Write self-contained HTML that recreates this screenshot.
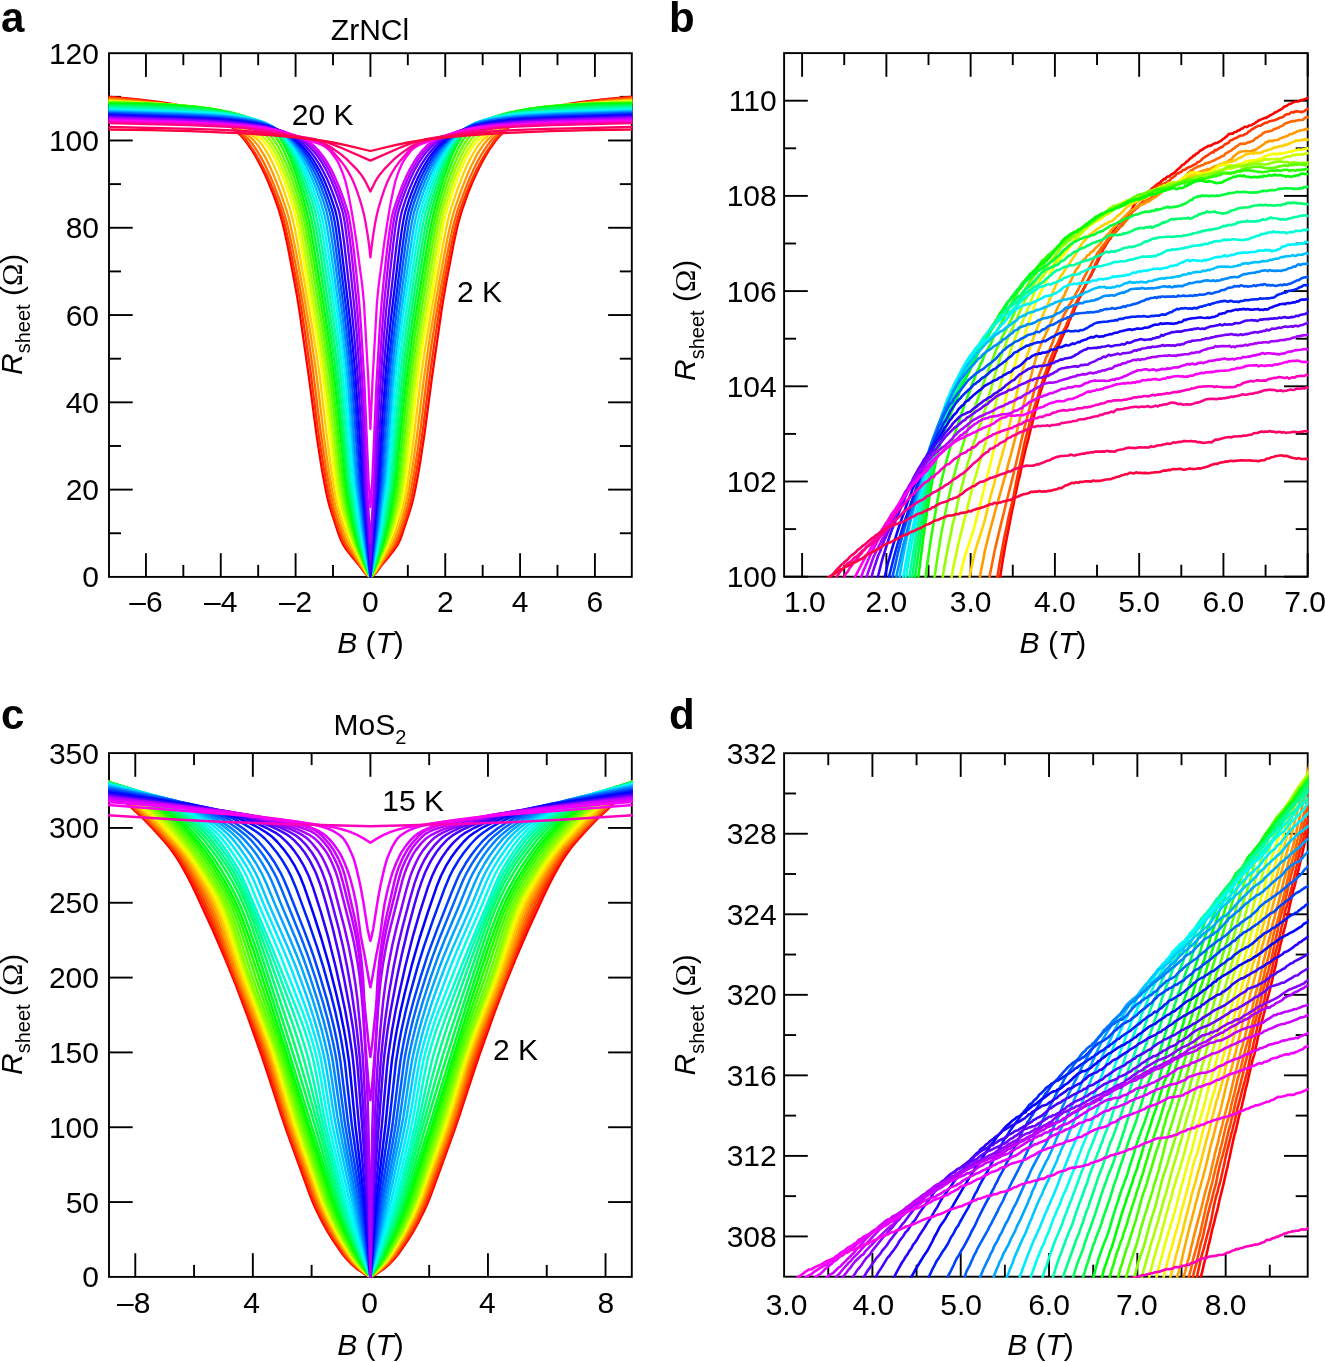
<!DOCTYPE html>
<html><head><meta charset="utf-8"><title>Figure</title>
<style>html,body{margin:0;padding:0;background:#fff;} svg{display:block;will-change:transform;} text{font-family:"Liberation Sans", sans-serif;}</style>
</head><body>
<svg width="1325" height="1362" viewBox="0 0 1325 1362" font-family='"Liberation Sans", sans-serif' fill="#000"><line x1="145.93" y1="576.90" x2="145.93" y2="553.20" stroke="#000" stroke-width="1.9"/>
<line x1="145.93" y1="53.20" x2="145.93" y2="76.90" stroke="#000" stroke-width="1.9"/>
<line x1="220.76" y1="576.90" x2="220.76" y2="553.20" stroke="#000" stroke-width="1.9"/>
<line x1="220.76" y1="53.20" x2="220.76" y2="76.90" stroke="#000" stroke-width="1.9"/>
<line x1="295.59" y1="576.90" x2="295.59" y2="553.20" stroke="#000" stroke-width="1.9"/>
<line x1="295.59" y1="53.20" x2="295.59" y2="76.90" stroke="#000" stroke-width="1.9"/>
<line x1="370.42" y1="576.90" x2="370.42" y2="553.20" stroke="#000" stroke-width="1.9"/>
<line x1="370.42" y1="53.20" x2="370.42" y2="76.90" stroke="#000" stroke-width="1.9"/>
<line x1="445.25" y1="576.90" x2="445.25" y2="553.20" stroke="#000" stroke-width="1.9"/>
<line x1="445.25" y1="53.20" x2="445.25" y2="76.90" stroke="#000" stroke-width="1.9"/>
<line x1="520.08" y1="576.90" x2="520.08" y2="553.20" stroke="#000" stroke-width="1.9"/>
<line x1="520.08" y1="53.20" x2="520.08" y2="76.90" stroke="#000" stroke-width="1.9"/>
<line x1="594.91" y1="576.90" x2="594.91" y2="553.20" stroke="#000" stroke-width="1.9"/>
<line x1="594.91" y1="53.20" x2="594.91" y2="76.90" stroke="#000" stroke-width="1.9"/>
<line x1="183.34" y1="576.90" x2="183.34" y2="564.90" stroke="#000" stroke-width="1.9"/>
<line x1="183.34" y1="53.20" x2="183.34" y2="65.20" stroke="#000" stroke-width="1.9"/>
<line x1="258.17" y1="576.90" x2="258.17" y2="564.90" stroke="#000" stroke-width="1.9"/>
<line x1="258.17" y1="53.20" x2="258.17" y2="65.20" stroke="#000" stroke-width="1.9"/>
<line x1="333.00" y1="576.90" x2="333.00" y2="564.90" stroke="#000" stroke-width="1.9"/>
<line x1="333.00" y1="53.20" x2="333.00" y2="65.20" stroke="#000" stroke-width="1.9"/>
<line x1="407.83" y1="576.90" x2="407.83" y2="564.90" stroke="#000" stroke-width="1.9"/>
<line x1="407.83" y1="53.20" x2="407.83" y2="65.20" stroke="#000" stroke-width="1.9"/>
<line x1="482.66" y1="576.90" x2="482.66" y2="564.90" stroke="#000" stroke-width="1.9"/>
<line x1="482.66" y1="53.20" x2="482.66" y2="65.20" stroke="#000" stroke-width="1.9"/>
<line x1="557.49" y1="576.90" x2="557.49" y2="564.90" stroke="#000" stroke-width="1.9"/>
<line x1="557.49" y1="53.20" x2="557.49" y2="65.20" stroke="#000" stroke-width="1.9"/>
<line x1="109.00" y1="489.62" x2="132.70" y2="489.62" stroke="#000" stroke-width="1.9"/>
<line x1="631.80" y1="489.62" x2="608.10" y2="489.62" stroke="#000" stroke-width="1.9"/>
<line x1="109.00" y1="402.33" x2="132.70" y2="402.33" stroke="#000" stroke-width="1.9"/>
<line x1="631.80" y1="402.33" x2="608.10" y2="402.33" stroke="#000" stroke-width="1.9"/>
<line x1="109.00" y1="315.05" x2="132.70" y2="315.05" stroke="#000" stroke-width="1.9"/>
<line x1="631.80" y1="315.05" x2="608.10" y2="315.05" stroke="#000" stroke-width="1.9"/>
<line x1="109.00" y1="227.77" x2="132.70" y2="227.77" stroke="#000" stroke-width="1.9"/>
<line x1="631.80" y1="227.77" x2="608.10" y2="227.77" stroke="#000" stroke-width="1.9"/>
<line x1="109.00" y1="140.48" x2="132.70" y2="140.48" stroke="#000" stroke-width="1.9"/>
<line x1="631.80" y1="140.48" x2="608.10" y2="140.48" stroke="#000" stroke-width="1.9"/>
<line x1="109.00" y1="533.26" x2="121.00" y2="533.26" stroke="#000" stroke-width="1.9"/>
<line x1="631.80" y1="533.26" x2="619.80" y2="533.26" stroke="#000" stroke-width="1.9"/>
<line x1="109.00" y1="445.98" x2="121.00" y2="445.98" stroke="#000" stroke-width="1.9"/>
<line x1="631.80" y1="445.98" x2="619.80" y2="445.98" stroke="#000" stroke-width="1.9"/>
<line x1="109.00" y1="358.69" x2="121.00" y2="358.69" stroke="#000" stroke-width="1.9"/>
<line x1="631.80" y1="358.69" x2="619.80" y2="358.69" stroke="#000" stroke-width="1.9"/>
<line x1="109.00" y1="271.41" x2="121.00" y2="271.41" stroke="#000" stroke-width="1.9"/>
<line x1="631.80" y1="271.41" x2="619.80" y2="271.41" stroke="#000" stroke-width="1.9"/>
<line x1="109.00" y1="184.12" x2="121.00" y2="184.12" stroke="#000" stroke-width="1.9"/>
<line x1="631.80" y1="184.12" x2="619.80" y2="184.12" stroke="#000" stroke-width="1.9"/>
<line x1="109.00" y1="96.84" x2="121.00" y2="96.84" stroke="#000" stroke-width="1.9"/>
<line x1="631.80" y1="96.84" x2="619.80" y2="96.84" stroke="#000" stroke-width="1.9"/>
<rect x="109.00" y="53.20" width="522.80" height="523.70" fill="none" stroke="#000" stroke-width="1.9"/>
<text x="145.93" y="612.00" font-size="30" text-anchor="middle" >–6</text>
<text x="220.76" y="612.00" font-size="30" text-anchor="middle" >–4</text>
<text x="295.59" y="612.00" font-size="30" text-anchor="middle" >–2</text>
<text x="370.42" y="612.00" font-size="30" text-anchor="middle" >0</text>
<text x="445.25" y="612.00" font-size="30" text-anchor="middle" >2</text>
<text x="520.08" y="612.00" font-size="30" text-anchor="middle" >4</text>
<text x="594.91" y="612.00" font-size="30" text-anchor="middle" >6</text>
<text x="99.00" y="587.40" font-size="30" text-anchor="end" >0</text>
<text x="99.00" y="500.12" font-size="30" text-anchor="end" >20</text>
<text x="99.00" y="412.83" font-size="30" text-anchor="end" >40</text>
<text x="99.00" y="325.55" font-size="30" text-anchor="end" >60</text>
<text x="99.00" y="238.27" font-size="30" text-anchor="end" >80</text>
<text x="99.00" y="150.98" font-size="30" text-anchor="end" >100</text>
<text x="99.00" y="63.70" font-size="30" text-anchor="end" >120</text>
<line x1="802.10" y1="576.70" x2="802.10" y2="553.00" stroke="#000" stroke-width="1.9"/>
<line x1="802.10" y1="53.10" x2="802.10" y2="76.80" stroke="#000" stroke-width="1.9"/>
<line x1="886.37" y1="576.70" x2="886.37" y2="553.00" stroke="#000" stroke-width="1.9"/>
<line x1="886.37" y1="53.10" x2="886.37" y2="76.80" stroke="#000" stroke-width="1.9"/>
<line x1="970.63" y1="576.70" x2="970.63" y2="553.00" stroke="#000" stroke-width="1.9"/>
<line x1="970.63" y1="53.10" x2="970.63" y2="76.80" stroke="#000" stroke-width="1.9"/>
<line x1="1054.90" y1="576.70" x2="1054.90" y2="553.00" stroke="#000" stroke-width="1.9"/>
<line x1="1054.90" y1="53.10" x2="1054.90" y2="76.80" stroke="#000" stroke-width="1.9"/>
<line x1="1139.17" y1="576.70" x2="1139.17" y2="553.00" stroke="#000" stroke-width="1.9"/>
<line x1="1139.17" y1="53.10" x2="1139.17" y2="76.80" stroke="#000" stroke-width="1.9"/>
<line x1="1223.43" y1="576.70" x2="1223.43" y2="553.00" stroke="#000" stroke-width="1.9"/>
<line x1="1223.43" y1="53.10" x2="1223.43" y2="76.80" stroke="#000" stroke-width="1.9"/>
<line x1="1307.70" y1="576.70" x2="1307.70" y2="553.00" stroke="#000" stroke-width="1.9"/>
<line x1="1307.70" y1="53.10" x2="1307.70" y2="76.80" stroke="#000" stroke-width="1.9"/>
<line x1="844.23" y1="576.70" x2="844.23" y2="564.70" stroke="#000" stroke-width="1.9"/>
<line x1="844.23" y1="53.10" x2="844.23" y2="65.10" stroke="#000" stroke-width="1.9"/>
<line x1="928.50" y1="576.70" x2="928.50" y2="564.70" stroke="#000" stroke-width="1.9"/>
<line x1="928.50" y1="53.10" x2="928.50" y2="65.10" stroke="#000" stroke-width="1.9"/>
<line x1="1012.77" y1="576.70" x2="1012.77" y2="564.70" stroke="#000" stroke-width="1.9"/>
<line x1="1012.77" y1="53.10" x2="1012.77" y2="65.10" stroke="#000" stroke-width="1.9"/>
<line x1="1097.03" y1="576.70" x2="1097.03" y2="564.70" stroke="#000" stroke-width="1.9"/>
<line x1="1097.03" y1="53.10" x2="1097.03" y2="65.10" stroke="#000" stroke-width="1.9"/>
<line x1="1181.30" y1="576.70" x2="1181.30" y2="564.70" stroke="#000" stroke-width="1.9"/>
<line x1="1181.30" y1="53.10" x2="1181.30" y2="65.10" stroke="#000" stroke-width="1.9"/>
<line x1="1265.57" y1="576.70" x2="1265.57" y2="564.70" stroke="#000" stroke-width="1.9"/>
<line x1="1265.57" y1="53.10" x2="1265.57" y2="65.10" stroke="#000" stroke-width="1.9"/>
<line x1="784.10" y1="576.70" x2="807.80" y2="576.70" stroke="#000" stroke-width="1.9"/>
<line x1="1307.70" y1="576.70" x2="1284.00" y2="576.70" stroke="#000" stroke-width="1.9"/>
<line x1="784.10" y1="481.50" x2="807.80" y2="481.50" stroke="#000" stroke-width="1.9"/>
<line x1="1307.70" y1="481.50" x2="1284.00" y2="481.50" stroke="#000" stroke-width="1.9"/>
<line x1="784.10" y1="386.30" x2="807.80" y2="386.30" stroke="#000" stroke-width="1.9"/>
<line x1="1307.70" y1="386.30" x2="1284.00" y2="386.30" stroke="#000" stroke-width="1.9"/>
<line x1="784.10" y1="291.10" x2="807.80" y2="291.10" stroke="#000" stroke-width="1.9"/>
<line x1="1307.70" y1="291.10" x2="1284.00" y2="291.10" stroke="#000" stroke-width="1.9"/>
<line x1="784.10" y1="195.90" x2="807.80" y2="195.90" stroke="#000" stroke-width="1.9"/>
<line x1="1307.70" y1="195.90" x2="1284.00" y2="195.90" stroke="#000" stroke-width="1.9"/>
<line x1="784.10" y1="100.70" x2="807.80" y2="100.70" stroke="#000" stroke-width="1.9"/>
<line x1="1307.70" y1="100.70" x2="1284.00" y2="100.70" stroke="#000" stroke-width="1.9"/>
<line x1="784.10" y1="529.10" x2="796.10" y2="529.10" stroke="#000" stroke-width="1.9"/>
<line x1="1307.70" y1="529.10" x2="1295.70" y2="529.10" stroke="#000" stroke-width="1.9"/>
<line x1="784.10" y1="433.90" x2="796.10" y2="433.90" stroke="#000" stroke-width="1.9"/>
<line x1="1307.70" y1="433.90" x2="1295.70" y2="433.90" stroke="#000" stroke-width="1.9"/>
<line x1="784.10" y1="338.70" x2="796.10" y2="338.70" stroke="#000" stroke-width="1.9"/>
<line x1="1307.70" y1="338.70" x2="1295.70" y2="338.70" stroke="#000" stroke-width="1.9"/>
<line x1="784.10" y1="243.50" x2="796.10" y2="243.50" stroke="#000" stroke-width="1.9"/>
<line x1="1307.70" y1="243.50" x2="1295.70" y2="243.50" stroke="#000" stroke-width="1.9"/>
<line x1="784.10" y1="148.30" x2="796.10" y2="148.30" stroke="#000" stroke-width="1.9"/>
<line x1="1307.70" y1="148.30" x2="1295.70" y2="148.30" stroke="#000" stroke-width="1.9"/>
<rect x="784.10" y="53.10" width="523.60" height="523.60" fill="none" stroke="#000" stroke-width="1.9"/>
<text x="804.90" y="612.00" font-size="30" text-anchor="middle" >1.0</text>
<text x="886.37" y="612.00" font-size="30" text-anchor="middle" >2.0</text>
<text x="970.63" y="612.00" font-size="30" text-anchor="middle" >3.0</text>
<text x="1054.90" y="612.00" font-size="30" text-anchor="middle" >4.0</text>
<text x="1139.17" y="612.00" font-size="30" text-anchor="middle" >5.0</text>
<text x="1223.43" y="612.00" font-size="30" text-anchor="middle" >6.0</text>
<text x="1305.10" y="612.00" font-size="30" text-anchor="middle" >7.0</text>
<text x="776.70" y="587.20" font-size="30" text-anchor="end" >100</text>
<text x="776.70" y="492.00" font-size="30" text-anchor="end" >102</text>
<text x="776.70" y="396.80" font-size="30" text-anchor="end" >104</text>
<text x="776.70" y="301.60" font-size="30" text-anchor="end" >106</text>
<text x="776.70" y="206.40" font-size="30" text-anchor="end" >108</text>
<text x="776.70" y="111.20" font-size="30" text-anchor="end" >110</text>
<line x1="135.28" y1="1276.90" x2="135.28" y2="1253.20" stroke="#000" stroke-width="1.9"/>
<line x1="135.28" y1="753.10" x2="135.28" y2="776.80" stroke="#000" stroke-width="1.9"/>
<line x1="252.84" y1="1276.90" x2="252.84" y2="1253.20" stroke="#000" stroke-width="1.9"/>
<line x1="252.84" y1="753.10" x2="252.84" y2="776.80" stroke="#000" stroke-width="1.9"/>
<line x1="370.40" y1="1276.90" x2="370.40" y2="1253.20" stroke="#000" stroke-width="1.9"/>
<line x1="370.40" y1="753.10" x2="370.40" y2="776.80" stroke="#000" stroke-width="1.9"/>
<line x1="487.96" y1="1276.90" x2="487.96" y2="1253.20" stroke="#000" stroke-width="1.9"/>
<line x1="487.96" y1="753.10" x2="487.96" y2="776.80" stroke="#000" stroke-width="1.9"/>
<line x1="605.52" y1="1276.90" x2="605.52" y2="1253.20" stroke="#000" stroke-width="1.9"/>
<line x1="605.52" y1="753.10" x2="605.52" y2="776.80" stroke="#000" stroke-width="1.9"/>
<line x1="194.06" y1="1276.90" x2="194.06" y2="1264.90" stroke="#000" stroke-width="1.9"/>
<line x1="194.06" y1="753.10" x2="194.06" y2="765.10" stroke="#000" stroke-width="1.9"/>
<line x1="311.62" y1="1276.90" x2="311.62" y2="1264.90" stroke="#000" stroke-width="1.9"/>
<line x1="311.62" y1="753.10" x2="311.62" y2="765.10" stroke="#000" stroke-width="1.9"/>
<line x1="429.18" y1="1276.90" x2="429.18" y2="1264.90" stroke="#000" stroke-width="1.9"/>
<line x1="429.18" y1="753.10" x2="429.18" y2="765.10" stroke="#000" stroke-width="1.9"/>
<line x1="546.74" y1="1276.90" x2="546.74" y2="1264.90" stroke="#000" stroke-width="1.9"/>
<line x1="546.74" y1="753.10" x2="546.74" y2="765.10" stroke="#000" stroke-width="1.9"/>
<line x1="109.00" y1="1202.07" x2="132.70" y2="1202.07" stroke="#000" stroke-width="1.9"/>
<line x1="631.80" y1="1202.07" x2="608.10" y2="1202.07" stroke="#000" stroke-width="1.9"/>
<line x1="109.00" y1="1127.24" x2="132.70" y2="1127.24" stroke="#000" stroke-width="1.9"/>
<line x1="631.80" y1="1127.24" x2="608.10" y2="1127.24" stroke="#000" stroke-width="1.9"/>
<line x1="109.00" y1="1052.41" x2="132.70" y2="1052.41" stroke="#000" stroke-width="1.9"/>
<line x1="631.80" y1="1052.41" x2="608.10" y2="1052.41" stroke="#000" stroke-width="1.9"/>
<line x1="109.00" y1="977.59" x2="132.70" y2="977.59" stroke="#000" stroke-width="1.9"/>
<line x1="631.80" y1="977.59" x2="608.10" y2="977.59" stroke="#000" stroke-width="1.9"/>
<line x1="109.00" y1="902.76" x2="132.70" y2="902.76" stroke="#000" stroke-width="1.9"/>
<line x1="631.80" y1="902.76" x2="608.10" y2="902.76" stroke="#000" stroke-width="1.9"/>
<line x1="109.00" y1="827.93" x2="132.70" y2="827.93" stroke="#000" stroke-width="1.9"/>
<line x1="631.80" y1="827.93" x2="608.10" y2="827.93" stroke="#000" stroke-width="1.9"/>
<rect x="109.00" y="753.10" width="522.80" height="523.80" fill="none" stroke="#000" stroke-width="1.9"/>
<text x="133.68" y="1313.00" font-size="30" text-anchor="middle" >–8</text>
<text x="251.64" y="1313.00" font-size="30" text-anchor="middle" >4</text>
<text x="369.50" y="1313.00" font-size="30" text-anchor="middle" >0</text>
<text x="487.46" y="1313.00" font-size="30" text-anchor="middle" >4</text>
<text x="605.82" y="1313.00" font-size="30" text-anchor="middle" >8</text>
<text x="99.00" y="1287.40" font-size="30" text-anchor="end" >0</text>
<text x="99.00" y="1212.57" font-size="30" text-anchor="end" >50</text>
<text x="99.00" y="1137.74" font-size="30" text-anchor="end" >100</text>
<text x="99.00" y="1062.91" font-size="30" text-anchor="end" >150</text>
<text x="99.00" y="988.09" font-size="30" text-anchor="end" >200</text>
<text x="99.00" y="913.26" font-size="30" text-anchor="end" >250</text>
<text x="99.00" y="838.43" font-size="30" text-anchor="end" >300</text>
<text x="99.00" y="763.60" font-size="30" text-anchor="end" >350</text>
<line x1="872.41" y1="1276.70" x2="872.41" y2="1253.00" stroke="#000" stroke-width="1.9"/>
<line x1="872.41" y1="753.20" x2="872.41" y2="776.90" stroke="#000" stroke-width="1.9"/>
<line x1="960.72" y1="1276.70" x2="960.72" y2="1253.00" stroke="#000" stroke-width="1.9"/>
<line x1="960.72" y1="753.20" x2="960.72" y2="776.90" stroke="#000" stroke-width="1.9"/>
<line x1="1049.04" y1="1276.70" x2="1049.04" y2="1253.00" stroke="#000" stroke-width="1.9"/>
<line x1="1049.04" y1="753.20" x2="1049.04" y2="776.90" stroke="#000" stroke-width="1.9"/>
<line x1="1137.35" y1="1276.70" x2="1137.35" y2="1253.00" stroke="#000" stroke-width="1.9"/>
<line x1="1137.35" y1="753.20" x2="1137.35" y2="776.90" stroke="#000" stroke-width="1.9"/>
<line x1="1225.66" y1="1276.70" x2="1225.66" y2="1253.00" stroke="#000" stroke-width="1.9"/>
<line x1="1225.66" y1="753.20" x2="1225.66" y2="776.90" stroke="#000" stroke-width="1.9"/>
<line x1="828.26" y1="1276.70" x2="828.26" y2="1264.70" stroke="#000" stroke-width="1.9"/>
<line x1="828.26" y1="753.20" x2="828.26" y2="765.20" stroke="#000" stroke-width="1.9"/>
<line x1="916.57" y1="1276.70" x2="916.57" y2="1264.70" stroke="#000" stroke-width="1.9"/>
<line x1="916.57" y1="753.20" x2="916.57" y2="765.20" stroke="#000" stroke-width="1.9"/>
<line x1="1004.88" y1="1276.70" x2="1004.88" y2="1264.70" stroke="#000" stroke-width="1.9"/>
<line x1="1004.88" y1="753.20" x2="1004.88" y2="765.20" stroke="#000" stroke-width="1.9"/>
<line x1="1093.19" y1="1276.70" x2="1093.19" y2="1264.70" stroke="#000" stroke-width="1.9"/>
<line x1="1093.19" y1="753.20" x2="1093.19" y2="765.20" stroke="#000" stroke-width="1.9"/>
<line x1="1181.50" y1="1276.70" x2="1181.50" y2="1264.70" stroke="#000" stroke-width="1.9"/>
<line x1="1181.50" y1="753.20" x2="1181.50" y2="765.20" stroke="#000" stroke-width="1.9"/>
<line x1="1269.81" y1="1276.70" x2="1269.81" y2="1264.70" stroke="#000" stroke-width="1.9"/>
<line x1="1269.81" y1="753.20" x2="1269.81" y2="765.20" stroke="#000" stroke-width="1.9"/>
<line x1="784.10" y1="1236.43" x2="807.80" y2="1236.43" stroke="#000" stroke-width="1.9"/>
<line x1="1307.70" y1="1236.43" x2="1284.00" y2="1236.43" stroke="#000" stroke-width="1.9"/>
<line x1="784.10" y1="1155.89" x2="807.80" y2="1155.89" stroke="#000" stroke-width="1.9"/>
<line x1="1307.70" y1="1155.89" x2="1284.00" y2="1155.89" stroke="#000" stroke-width="1.9"/>
<line x1="784.10" y1="1075.35" x2="807.80" y2="1075.35" stroke="#000" stroke-width="1.9"/>
<line x1="1307.70" y1="1075.35" x2="1284.00" y2="1075.35" stroke="#000" stroke-width="1.9"/>
<line x1="784.10" y1="994.82" x2="807.80" y2="994.82" stroke="#000" stroke-width="1.9"/>
<line x1="1307.70" y1="994.82" x2="1284.00" y2="994.82" stroke="#000" stroke-width="1.9"/>
<line x1="784.10" y1="914.28" x2="807.80" y2="914.28" stroke="#000" stroke-width="1.9"/>
<line x1="1307.70" y1="914.28" x2="1284.00" y2="914.28" stroke="#000" stroke-width="1.9"/>
<line x1="784.10" y1="833.74" x2="807.80" y2="833.74" stroke="#000" stroke-width="1.9"/>
<line x1="1307.70" y1="833.74" x2="1284.00" y2="833.74" stroke="#000" stroke-width="1.9"/>
<line x1="784.10" y1="1196.16" x2="796.10" y2="1196.16" stroke="#000" stroke-width="1.9"/>
<line x1="1307.70" y1="1196.16" x2="1295.70" y2="1196.16" stroke="#000" stroke-width="1.9"/>
<line x1="784.10" y1="1115.62" x2="796.10" y2="1115.62" stroke="#000" stroke-width="1.9"/>
<line x1="1307.70" y1="1115.62" x2="1295.70" y2="1115.62" stroke="#000" stroke-width="1.9"/>
<line x1="784.10" y1="1035.08" x2="796.10" y2="1035.08" stroke="#000" stroke-width="1.9"/>
<line x1="1307.70" y1="1035.08" x2="1295.70" y2="1035.08" stroke="#000" stroke-width="1.9"/>
<line x1="784.10" y1="954.55" x2="796.10" y2="954.55" stroke="#000" stroke-width="1.9"/>
<line x1="1307.70" y1="954.55" x2="1295.70" y2="954.55" stroke="#000" stroke-width="1.9"/>
<line x1="784.10" y1="874.01" x2="796.10" y2="874.01" stroke="#000" stroke-width="1.9"/>
<line x1="1307.70" y1="874.01" x2="1295.70" y2="874.01" stroke="#000" stroke-width="1.9"/>
<line x1="784.10" y1="793.47" x2="796.10" y2="793.47" stroke="#000" stroke-width="1.9"/>
<line x1="1307.70" y1="793.47" x2="1295.70" y2="793.47" stroke="#000" stroke-width="1.9"/>
<rect x="784.10" y="753.20" width="523.60" height="523.50" fill="none" stroke="#000" stroke-width="1.9"/>
<text x="786.50" y="1314.60" font-size="30" text-anchor="middle" >3.0</text>
<text x="873.31" y="1314.60" font-size="30" text-anchor="middle" >4.0</text>
<text x="961.12" y="1314.60" font-size="30" text-anchor="middle" >5.0</text>
<text x="1049.04" y="1314.60" font-size="30" text-anchor="middle" >6.0</text>
<text x="1136.85" y="1314.60" font-size="30" text-anchor="middle" >7.0</text>
<text x="1225.66" y="1314.60" font-size="30" text-anchor="middle" >8.0</text>
<text x="776.70" y="1246.93" font-size="30" text-anchor="end" >308</text>
<text x="776.70" y="1166.39" font-size="30" text-anchor="end" >312</text>
<text x="776.70" y="1085.85" font-size="30" text-anchor="end" >316</text>
<text x="776.70" y="1005.32" font-size="30" text-anchor="end" >320</text>
<text x="776.70" y="924.78" font-size="30" text-anchor="end" >324</text>
<text x="776.70" y="844.24" font-size="30" text-anchor="end" >328</text>
<text x="776.70" y="763.70" font-size="30" text-anchor="end" >332</text>
<defs><clipPath id="ca"><rect x="108.05" y="52.25" width="524.70" height="525.60"/></clipPath><clipPath id="cb"><rect x="783.15" y="52.15" width="525.50" height="525.50"/></clipPath><clipPath id="cc"><rect x="108.05" y="752.15" width="524.70" height="525.70"/></clipPath><clipPath id="cd"><rect x="783.15" y="752.25" width="525.50" height="525.40"/></clipPath></defs>
<g clip-path="url(#ca)"><g transform="scale(0.1)" fill="none" stroke-width="23" stroke-linejoin="round">
<path d="M1085 967l137 11 159 16 205 26 136 20 114 21 86 21 51 16 68 27 125 55 57 28 64 39 48 38 82 80 34 40 67 97 34 55 33 60 34 65 34 71 33 76 34 83 34 90 34 97 34 118 17 70 35 158 68 361 30 165 24 149 93 652 75 567 43 281 20 120 27 142 18 85 19 80 26 85 69 209 23 60 22 45 36 54 46 59 74 89 66 87 25 21 13 8 13 5 13-5 13-8 25-21 66-87 74-89 46-59 37-54 22-45 22-60 69-209 26-85 20-80 18-85 27-142 20-120 43-281 75-567 93-652 24-149 29-165 69-361 34-158 17-70 35-118 34-97 33-90 34-83 34-76 33-71 34-65 34-60 33-55 68-97 34-40 82-80 47-38 64-39 57-28 125-55 69-27 51-16 85-21 114-21 137-20 204-26 160-16 136-11" stroke="hsl(0.0,100%,50%)"/>
<path d="M1085 974l138 10 161 16 206 26 138 20 115 20 86 20 52 15 69 27 137 59 46 22 65 40 55 43 75 73 35 40 68 97 35 55 34 60 34 65 35 71 34 76 34 83 34 90 35 97 35 118 17 71 35 157 70 362 30 164 25 148 37 242 49 344 72 568 32 219 33 207 33 182 21 105 20 84 31 103 49 146 31 81 23 46 41 63 100 134 62 87 12 13 16 13 24 13 24-13 16-13 12-13 62-87 101-134 41-63 22-46 31-81 50-146 30-103 20-84 21-105 33-182 34-207 31-219 73-568 49-344 37-242 24-148 30-164 70-362 35-157 18-71 35-118 34-97 34-90 34-83 35-76 34-71 34-65 35-60 34-55 68-97 35-40 76-73 55-43 64-40 46-22 138-59 69-27 51-15 86-20 115-20 138-20 207-26 160-16 138-10" stroke="hsl(12.2,100%,50%)"/>
<path d="M1085 983l212 19 188 19 188 22 135 20 106 19 71 17 70 23 88 34 83 36 54 31 89 67 99 86 28 29 34 43 33 48 33 54 34 61 33 66 34 72 33 78 67 175 34 97 35 119 17 71 35 159 86 454 51 294 38 246 37 263 70 567 31 220 32 208 28 159 25 127 19 84 29 103 41 124 31 84 30 64 33 54 96 139 61 92 11 13 15 13 22 13 22-13 15-13 11-13 61-92 96-139 33-54 30-64 31-84 41-124 29-103 20-84 24-127 28-159 33-208 30-220 70-567 38-263 38-246 50-294 87-454 34-159 18-71 34-119 34-97 67-175 33-78 34-72 33-66 34-61 33-54 34-48 33-43 29-29 98-86 90-67 54-31 82-36 88-34 71-23 70-17 106-19 135-20 188-22 189-19 211-19" stroke="hsl(24.3,100%,50%)"/>
<path d="M1085 993l436 36 146 15 121 15 115 17 72 13 73 18 73 23 66 25 61 27 48 27 39 28 131 107 44 34 21 19 40 47 33 47 32 53 33 60 32 67 33 73 65 165 65 190 17 56 16 64 33 149 34 169 79 436 65 384 60 411 68 570 33 240 24 162 25 142 20 104 19 84 29 103 32 102 39 105 30 65 30 53 143 232 21 23 13 10 10 6 10-6 14-10 20-23 144-232 30-53 29-65 39-105 33-102 28-103 20-84 20-104 24-142 24-162 33-240 69-570 60-411 64-384 80-436 33-169 33-149 17-64 16-56 66-190 65-165 32-73 33-67 32-60 33-53 32-47 40-47 22-19 43-34 131-107 39-28 48-27 61-27 67-25 72-23 73-18 73-13 115-17 121-15 145-15 436-36" stroke="hsl(36.5,100%,50%)"/>
<path d="M1085 1003l450 29 150 13 150 15 112 15 75 12 75 18 75 23 50 18 37 17 75 42 30 21 145 120 53 38 22 21 32 37 32 45 32 53 31 59 32 67 32 73 63 167 64 193 15 55 32 137 31 163 117 670 66 401 35 242 67 569 42 325 35 222 15 85 18 79 23 87 37 117 38 108 30 74 33 65 126 226 18 25 12 12 12 8 12-8 12-12 19-25 125-226 33-65 30-74 39-108 36-117 24-87 17-79 16-85 34-222 42-325 67-569 35-242 66-401 118-670 31-163 31-137 16-55 63-193 64-167 31-73 32-67 32-59 32-53 31-45 32-37 23-21 52-38 145-120 30-21 75-42 37-17 50-18 75-23 75-18 75-12 113-15 150-15 150-13 449-29" stroke="hsl(48.7,100%,50%)"/>
<path d="M1085 1012l438 21 180 12 154 13 116 13 77 11 77 16 78 22 38 13 39 17 38 20 52 31 31 22 62 53 79 65 70 50 15 14 31 36 31 43 31 52 31 59 31 67 31 73 62 169 62 195 14 54 30 138 29 166 73 445 81 456 40 254 30 219 57 504 45 367 27 182 26 139 24 92 36 113 37 109 37 96 68 145 67 135 18 30 13 15 13 11 13-11 13-15 18-30 67-135 68-145 37-96 38-109 35-113 24-92 26-139 27-182 45-367 58-504 29-219 41-254 81-456 73-445 29-166 29-138 14-54 62-195 62-169 31-73 31-67 31-59 31-52 31-43 31-36 16-14 69-50 80-65 62-53 30-22 52-31 39-20 38-17 39-13 77-22 77-16 77-11 116-13 155-13 180-12 437-21" stroke="hsl(60.8,100%,50%)"/>
<path d="M1085 1017l211 7 211 10 211 13 158 13 119 13 99 16 79 17 79 23 33 11 39 17 40 20 50 29 150 111 64 50 31 29 38 47 30 46 29 53 30 59 30 67 29 73 60 166 59 192 15 55 29 139 29 165 73 444 79 456 40 254 38 287 97 842 24 165 22 117 22 91 34 114 35 109 35 96 82 186 49 100 16 27 21 23 22-23 16-27 48-100 82-186 35-96 35-109 34-114 22-91 22-117 25-165 97-842 37-287 40-254 80-456 72-444 30-165 29-139 14-55 60-192 59-166 30-73 30-67 29-59 30-53 30-46 37-47 32-29 63-50 150-111 50-29 40-20 40-17 32-11 80-23 79-17 99-16 118-13 158-13 211-13 211-10 211-7" stroke="hsl(73.0,100%,50%)"/>
<path d="M1085 1022l189 4 189 7 216 12 162 12 135 14 101 14 102 19 81 20 40 13 41 15 40 18 54 27 43 26 122 83 48 39 41 40 16 20 28 40 29 48 28 53 29 61 28 66 57 152 28 85 57 189 15 56 29 139 29 164 58 357 80 464 52 333 37 286 95 844 24 164 26 141 21 86 33 118 32 107 27 75 77 186 49 105 14 25 17 20 17-20 15-25 48-105 78-186 26-75 33-107 32-118 21-86 27-141 24-164 94-844 38-286 51-333 80-464 58-357 30-164 29-139 14-56 57-189 29-85 56-152 29-66 28-61 28-53 29-48 28-40 16-20 41-40 49-39 121-83 43-26 54-27 41-18 40-15 41-13 81-20 101-19 101-14 135-14 162-12 216-12 189-7 189-4" stroke="hsl(85.2,100%,50%)"/>
<path d="M1085 1027l166 2 193 5 249 13 166 12 117 11 125 17 103 20 83 20 83 26 97 43 66 36 111 68 41 35 41 47 44 65 27 49 27 54 27 61 28 67 54 151 27 84 54 186 15 57 29 140 29 163 137 820 51 333 21 154 24 202 88 811 23 148 27 142 24 103 26 101 25 85 24 75 84 211 42 95 12 19 9 11 10-11 12-19 42-95 83-211 25-75 24-85 27-101 24-103 27-142 22-148 89-811 24-202 21-154 51-333 136-820 30-163 29-140 14-57 55-186 27-84 54-151 27-67 27-61 27-54 27-49 44-65 41-47 42-35 110-68 67-36 96-43 83-26 83-20 104-20 124-17 118-11 165-12 249-13 193-5 166-2" stroke="hsl(97.3,100%,50%)"/>
<path d="M1085 1032l368 4 226 11 169 11 127 12 106 14 106 17 106 22 92 26 85 33 96 44 105 57 34 26 34 36 33 47 35 57 26 49 25 56 26 61 52 140 26 78 51 172 26 94 29 125 44 236 111 665 37 233 38 255 20 153 24 200 86 814 12 82 17 105 23 123 23 101 31 126 28 98 81 223 24 52 18 49 19 30 19-30 19-49 23-52 81-223 28-98 32-126 22-101 24-123 17-105 11-82 86-814 24-200 21-153 37-255 38-233 110-665 44-236 29-125 26-94 52-172 26-78 51-140 26-61 26-56 26-49 34-57 34-47 34-36 34-26 104-57 96-44 85-33 92-26 106-22 106-17 106-14 127-12 170-11 226-11 367-4" stroke="hsl(109.5,100%,50%)"/>
<path d="M1085 1038l375 2 260 12 144 10 130 11 108 14 129 22 109 22 86 24 113 42 80 34 84 43 35 26 26 28 34 49 42 72 25 51 25 56 25 62 50 140 25 78 49 170 25 93 30 126 43 236 110 663 37 233 37 256 28 217 23 206 39 367 37 377 24 167 46 244 24 104 26 102 18 59 29 82 30 91 26 61 17 49 16 30 17-30 16-49 26-61 30-91 29-82 18-59 26-102 24-104 46-244 24-167 37-377 39-367 24-206 28-217 36-256 37-233 110-663 44-236 29-126 25-93 50-170 25-78 49-140 25-62 25-56 25-51 42-72 35-49 26-28 34-26 84-43 81-34 112-42 87-24 108-22 130-22 108-14 130-11 144-10 259-12 375-2" stroke="hsl(121.7,100%,50%)"/>
<path d="M1085 1050l378 5 261 11 175 11 123 10 131 17 109 17 109 22 80 21 110 39 81 35 64 35 35 24 35 35 35 46 44 71 26 50 26 55 27 61 52 139 27 78 52 172 27 95 14 58 29 138 43 249 106 654 36 239 24 174 19 154 22 200 77 779 21 161 50 286 42 187 22 78 54 173 23 61 15 48 15 31 15-31 15-48 23-61 55-173 21-78 42-187 50-286 22-161 76-779 22-200 19-154 24-174 36-239 106-654 43-249 29-138 15-58 26-95 53-172 26-78 53-139 26-61 26-55 27-50 43-71 35-46 35-35 35-24 64-35 81-35 111-39 80-21 109-22 109-17 130-17 124-10 174-11 262-11 377-5" stroke="hsl(133.8,100%,50%)"/>
<path d="M1085 1062l381 7 292 13 205 12 110 9 132 16 109 17 103 21 88 25 90 32 71 31 35 20 26 17 44 36 44 50 26 37 28 44 28 49 28 55 27 60 28 65 56 150 55 174 28 97 14 56 29 137 43 249 103 654 36 239 23 176 32 285 80 849 18 140 51 306 35 167 24 98 47 164 37 119 13 31 13-31 38-119 46-164 24-98 35-167 51-306 18-140 80-849 32-285 24-176 35-239 104-654 43-249 28-137 14-56 28-97 56-174 55-150 28-65 28-60 28-55 27-49 28-44 26-37 44-50 44-36 27-17 35-20 70-31 91-32 88-25 102-21 110-17 131-16 110-9 205-12 293-13 380-7" stroke="hsl(146.0,100%,50%)"/>
<path d="M1085 1074l413 11 324 13 170 10 132 10 111 12 111 17 95 18 89 24 77 26 70 32 53 33 53 43 45 47 26 35 29 43 30 49 29 54 29 59 29 65 59 149 58 176 29 99 14 54 29 136 42 249 91 580 34 230 23 169 22 188 13 122 75 838 12 116 10 81 27 161 29 187 24 127 29 129 29 113 44 159 11 31 12-31 44-159 28-113 29-129 25-127 28-187 27-161 11-81 11-116 75-838 13-122 23-188 23-169 34-230 90-580 43-249 28-136 14-54 29-99 59-176 58-149 29-65 30-59 29-54 29-49 29-43 27-35 44-47 53-43 53-33 71-32 77-26 88-24 96-18 110-17 111-12 133-10 169-10 324-13 413-11" stroke="hsl(158.2,100%,50%)"/>
<path d="M1085 1087l475 14 357 15 193 11 111 9 89 11 112 17 89 19 83 25 59 23 54 28 53 38 54 47 44 49 40 55 30 48 31 52 31 59 30 64 31 71 31 78 30 85 31 93 31 101 14 53 14 63 27 149 28 172 101 654 33 237 22 179 23 220 67 798 11 122 11 92 31 185 25 187 15 85 52 253 45 185 11 36 11-36 45-185 52-253 15-85 26-187 30-185 11-92 11-122 67-798 23-220 22-179 34-237 100-654 28-172 28-149 14-63 14-53 30-101 31-93 31-85 30-78 31-71 31-64 30-59 31-52 31-48 39-55 45-49 53-47 54-38 53-28 60-23 83-25 89-19 111-17 89-11 112-9 193-11 356-15 475-14" stroke="hsl(170.3,100%,50%)"/>
<path d="M1085 1098l808 29 269 13 90 7 112 14 98 15 74 15 69 19 60 24 54 28 45 33 63 53 45 46 41 53 32 47 32 52 32 58 32 63 32 71 32 78 32 85 32 95 32 103 14 52 14 61 27 149 28 172 98 654 43 325 27 250 69 863 11 121 11 93 29 184 24 187 13 85 44 243 42 195 9 36 10-36 41-195 44-243 14-85 23-187 30-184 10-93 11-121 69-863 27-250 43-325 98-654 28-172 27-149 14-61 14-52 32-103 32-95 32-85 32-78 32-71 32-63 33-58 32-52 32-47 41-53 45-46 62-53 45-33 54-28 60-24 69-19 75-15 97-15 112-14 90-7 269-13 808-29" stroke="hsl(182.5,100%,50%)"/>
<path d="M1085 1108l785 27 279 14 114 9 113 13 113 17 91 20 39 11 36 13 69 33 46 30 81 64 36 36 43 51 33 46 34 50 33 57 34 63 33 70 34 78 33 87 34 96 33 106 13 50 14 61 26 148 27 172 94 658 31 238 21 180 21 220 62 797 20 215 27 185 31 250 43 265 36 200 7 31 7-31 36-200 44-265 31-250 27-185 20-215 61-797 22-220 20-180 31-238 95-658 26-172 27-148 13-61 13-50 34-106 33-96 34-87 33-78 34-70 33-63 34-57 33-50 33-46 43-51 36-36 82-64 45-30 69-33 37-13 39-11 90-20 114-17 113-13 113-9 279-14 785-27" stroke="hsl(194.7,100%,50%)"/>
<path d="M1085 1119l731 23 297 14 137 10 114 12 137 20 92 18 64 20 36 15 46 23 55 35 82 61 36 35 35 40 35 44 35 50 35 55 35 62 34 70 35 79 35 87 35 98 35 109 12 48 13 60 26 147 26 174 81 587 39 313 20 179 20 219 63 838 13 149 27 210 29 249 74 497 74-497 29-249 27-210 13-149 63-838 21-219 19-179 40-313 81-587 25-174 26-147 13-60 13-48 35-109 34-98 35-87 35-79 35-70 35-62 34-55 35-50 35-44 35-40 36-35 83-61 55-35 45-23 37-15 64-20 91-18 137-20 114-12 137-10 297-14 731-23" stroke="hsl(206.8,100%,50%)"/>
<path d="M1085 1129l768 26 292 14 138 11 115 13 131 19 92 19 62 20 79 37 37 22 65 43 46 35 55 55 36 43 36 48 36 55 36 62 36 69 37 79 36 89 36 99 36 112 13 47 12 58 12 69 25 163 90 679 47 402 19 188 16 188 68 920 50 458 62 498 62-498 51-458 67-920 16-188 19-188 47-402 90-679 25-163 12-69 13-58 12-47 36-112 37-99 36-89 36-79 36-69 36-62 36-55 37-48 36-43 54-55 47-35 64-43 37-22 80-37 61-20 92-19 131-19 115-13 138-11 292-14 768-26" stroke="hsl(219.0,100%,50%)"/>
<path d="M1085 1141l837 29 255 12 117 9 116 14 147 22 77 16 62 19 81 35 37 21 65 39 47 32 56 53 37 41 38 47 38 53 37 61 38 70 37 79 38 90 37 102 38 114 12 45 12 58 12 68 23 163 96 758 44 419 20 217 16 206 54 780 50 499 27 244 18 213 19-213 27-244 49-499 54-780 16-206 20-217 45-419 95-758 24-163 12-68 12-58 12-45 37-114 38-102 37-90 38-79 37-70 38-61 37-53 38-47 38-41 56-53 46-32 65-39 37-21 81-35 62-19 77-16 148-22 116-14 116-9 256-12 836-29" stroke="hsl(231.2,100%,50%)"/>
<path d="M1085 1152l783 27 321 16 117 9 118 14 133 19 94 18 75 23 78 31 94 50 47 31 57 51 39 40 39 46 39 52 38 61 39 69 39 79 38 91 39 103 39 117 11 44 12 56 11 68 23 162 91 762 25 243 26 271 35 471 41 637 50 581 14 144 10 139 4 92 4-92 10-139 14-144 51-581 40-637 36-471 25-271 25-243 91-762 23-162 12-68 11-56 12-44 38-117 39-103 39-91 38-79 39-69 39-61 38-52 39-46 39-40 57-51 47-31 94-50 79-31 75-23 94-18 133-19 117-14 118-9 320-16 783-27" stroke="hsl(243.3,100%,50%)"/>
<path d="M1085 1163l700 23 222 10 175 10 143 11 119 14 135 19 108 21 77 21 76 26 76 36 29 17 29 19 58 50 39 39 40 45 39 52 39 60 39 69 40 79 39 92 39 104 40 119 11 42 11 56 11 67 22 161 78 688 30 319 23 273 19 252 19 288 32 615 53 678 9 173 10-173 52-678 33-615 18-288 19-252 23-273 31-319 78-688 22-161 11-67 11-56 11-42 39-119 39-104 40-92 39-79 39-69 40-60 39-52 39-45 39-39 59-50 28-19 29-17 76-36 77-26 76-21 108-21 135-19 119-14 143-11 175-10 223-10 699-23" stroke="hsl(255.5,100%,50%)"/>
<path d="M1085 1173l678 22 226 9 185 11 146 11 145 15 121 16 113 21 90 23 78 26 96 43 49 28 49 39 40 37 40 44 40 51 40 60 40 69 40 81 40 93 40 106 40 121 10 41 11 54 10 66 21 159 32 284 42 407 21 236 27 359 17 246 17 287 29 667 9 140 15 183 22 371 22-371 15-183 9-140 30-667 16-287 17-246 28-359 20-236 42-407 32-284 21-159 11-66 10-54 11-41 40-121 40-106 40-93 39-81 40-69 40-60 40-51 40-44 40-37 50-39 48-28 97-43 77-26 91-23 113-21 121-16 145-15 145-11 186-11 226-9 677-22" stroke="hsl(267.7,100%,50%)"/>
<path d="M1085 1182l654 21 228 10 172 9 196 15 147 14 106 13 114 21 82 19 85 25 118 46 49 24 50 35 40 36 40 43 40 51 40 60 41 71 40 82 40 94 40 107 40 121 11 40 11 54 10 64 22 156 21 184 38 368 19 213 25 338 20 307 18 340 11 240 19 502 32 517 32-517 19-502 11-240 19-340 20-307 25-338 18-213 38-368 22-184 21-156 11-64 10-54 11-40 40-121 40-107 41-94 40-82 40-71 40-60 40-51 41-43 40-36 50-35 49-24 117-46 85-25 82-19 114-21 107-13 147-14 196-15 171-9 229-10 653-21" stroke="hsl(279.8,100%,50%)"/>
<path d="M1085 1196l628 17 364 15 148 10 223 17 124 13 83 12 109 22 93 24 82 27 80 29 29 12 20 11 41 27 40 35 40 42 41 52 40 61 41 71 40 83 40 94 41 108 40 121 11 40 11 52 22 135 21 169 33 299 22 232 17 225 35 575 42 987 18 258 18-258 43-987 34-575 17-225 22-232 33-299 22-169 21-135 11-52 11-40 41-121 40-108 40-94 41-83 40-71 41-61 40-52 40-42 41-35 40-27 20-11 30-12 79-29 83-27 92-24 109-22 83-12 124-13 223-17 149-10 363-15 628-17" stroke="hsl(292.0,100%,50%)"/>
<path d="M1085 1207l604 15 336 12 167 9 252 18 101 8 83 10 101 17 87 19 111 31 101 33 149 54 47 20 42 25 23 20 22 24 45 62 20 31 16 31 33 79 29 86 25 105 30 155 30 178 26 175 57 428 18 183 42 738 22 517 23-517 42-738 18-183 56-428 27-175 29-178 31-155 24-105 29-86 33-79 17-31 19-31 45-62 22-24 23-20 43-25 47-20 149-54 100-33 111-31 87-19 101-17 84-10 101-8 251-18 168-9 335-12 604-15" stroke="hsl(302.0,100%,50%)"/>
<path d="M1085 1219l617 17 309 10 257 13 206 16 189 23 86 14 92 18 271 65 46 15 60 27 45 26 45 33 22 23 82 95 39 52 32 53 33 61 22 48 27 69 32 95 24 81 20 78 16 82 21 126 13 96 13 119 14-119 13-96 20-126 17-82 19-78 25-81 31-95 27-69 22-48 33-61 33-53 38-52 82-95 23-23 45-33 45-26 59-27 46-15 271-65 93-18 86-14 188-23 206-16 257-13 309-10 617-17" stroke="hsl(315.0,100%,50%)"/>
<path d="M1085 1232l800 20 348 13 157 9 78 10 157 27 256 38 125 22 156 31 33 10 44 20 66 38 102 71 65 56 93 94 51 62 17 26 24 40 47 96 47-96 24-40 18-26 50-62 93-94 66-56 101-71 66-38 44-20 33-10 157-31 125-22 256-38 156-27 78-10 157-9 348-13 800-20" stroke="hsl(328.0,100%,50%)"/>
<path d="M1085 1270l849 19 344 12 213 14 489 50 78 11 106 19 56 13 39 12 98 36 60 24 287 126 288-126 59-24 98-36 40-12 55-13 106-19 78-11 490-50 212-14 345-12 848-19" stroke="hsl(337.0,100%,50%)"/>
<path d="M1085 1297l426 5 390 10 488 20 186 11 178 13 259 25 225 27 91 17 129 27 247 58 247-58 129-27 92-17 225-27 259-25 177-13 186-11 488-20 390-10 426-5" stroke="hsl(345.0,100%,50%)"/>
</g></g>
<g clip-path="url(#cb)"><g transform="scale(0.1)" fill="none" stroke-width="26" stroke-linejoin="round">
<path d="M9925 6279l99-657 25-145 74-382 12-49 12-68 37-168 13-48 24-119 37-158 25-94 25-107 12-43 25-102 61-222 50-144 86-207 12-36 13-26 12-38 25-46 12-35 25-53 12-33 25-44 12-40 12-23 13-34 24-47 13-36 12-19 25-65 12-23 37-82 12-19 37-80 13-13 12-22 12-28 13-21 24-53 13-29 12-21 12-30 13-18 24-65 13-18 24-45 13-29 12-23 12-18 13-27 24-41 13-13 12-24 37-31 25-27 12-7 12-18 12-12 50-60 12-26 12-20 25-34 37-36 12-18 37-18 13-11 12-16 25-12 12-16 25-18 24-22 25-17 12-5 13-16 12-6 12-15 13 4 12-18 12-8 13-2 24-19 25-13 12-10 13-15 37-31 24-27 13-5 12-9 12-15 13-7 37-35 12-5 12-17 13-1 12-18 12-2 13-11 12-14 25-13 24-18 25-11 12-9 13 1 24-10 13-11 12-3 12-6 13 0 12-6 12-10 13-3 24-22 13-5 12-12 12-8 13-16 12-10 12 2 13-6 12 3 12-14 25-6 12-13 13 1 12-11 12-8 13-2 12-12 12-6 13 5 12-5 12-11 25-3 37-22 12-11 13-5 12-11 25-9 37-16 12 2 12-13 13-3 12-11 12-3 25-15 12-12 13-1 24-17 13-4 24-16 25-22 12 0 37-26 13-1 37-19 36-2 25-14 12 0 25-9 12-2 13-9 24-10 13-2 12 3" stroke="hsl(0.0,100%,50%)"/>
<path d="M9897 6269l99-640 50-272 25-107 12-67 50-211 37-190 75-351 50-198 25-89 62-196 12-45 13-34 37-120 13-30 37-108 12-27 38-94 37-67 25-61 12-22 13-28 25-43 12-33 25-52 12-21 38-94 37-79 13-32 49-81 13-30 12-10 37-84 13-22 37-90 13-24 12-33 13-21 12-29 12-14 13-28 12-14 13-18 12-26 13-13 12-22 13-10 12-25 25-21 25-35 12-8 25-37 13-11 24-29 13-22 25-23 12-24 13-12 12-23 37-23 13-16 12-5 38-43 24-31 25-39 13-4 12-30 13-9 12-18 13-6 12-14 37-26 13-5 12 3 25-14 25-6 12-6 13-10 25-16 12-20 13-4 12-11 13-7 12-16 12-9 13-2 12-9 13-4 12-15 13-5 12-1 13-13 37-18 12-2 25-17 25-9 12-18 13-1 12-7 25-25 13-10 12-8 13-11 12-3 12-11 38-24 12 3 13-25 12 6 25-19 25-16 12 3 25-31 13-2 12-9 13-2 12-21 12-6 13-2 12-10 13-6 12-2 25-15 25-12 12 0 13-3 12-9 13-4 12-6 13-17 12-4 25-21 12-3 13-12 12-7 13-4 12-8 25-1 12-12 13-4 12-11 25-3 25-14 50-10 37-15 13-8 12-1 13-5 12-5 25-22 12-5 13 1 12-4 13-14 12-3 13 5 12-11 12 3 13-5 50 8 12-6 12-3 13-13 12-3 13-7 12-14 25-14" stroke="hsl(12.2,100%,50%)"/>
<path d="M9824 6235l76-492 51-257 77-320 12-43 13-58 76-299 115-490 114-427 38-112 39-98 12-21 13-41 13-22 13-30 12-35 26-59 12-38 39-90 25-67 38-86 26-42 25-54 13-17 25-44 64-115 51-107 25-45 26-54 12-16 13-30 26-49 12-12 13-21 13-26 12-12 13-21 26-34 12-13 26-39 25-27 13-10 13-20 25-24 13-3 13-19 12-6 13-17 13-10 12-7 26-35 13-13 25-31 26-36 25-42 25-26 13-8 13-16 13-7 12-2 26-20 12-5 13-16 26-5 12-9 13-15 13 0 13-13 12-8 13-11 25-10 13-11 13-5 13-10 12-4 13-15 13 1 12-9 13-4 13-10 25-13 13-9 13-3 13-5 12-14 13-5 13-7 12-17 13-10 13-2 25-37 13-13 13-7 12-17 13-2 26-19 12-5 26-15 13 1 12-10 13 1 13-7 12-12 13 1 13-8 13-1 38-18 12-2 39-23 12-2 26-18 13-2 12-6 13-19 13-8 12-4 13-10 13-5 13-8 12-14 13-3 13-17 12-3 26-21 13-5 12 3 13-7 13 5 13-3 25-15 13 3 12-9 26-8 25-26 13-4 26-20 12-4 13-15 25-16 13-5 13 1 51-14 12-11 13-6 13 1 13-11 12 0 13-11 26-10 12-13 13-7 38-13 13-7 13-1 12-5 13 3 13-6 12-1 13-5 51-3 26-22 12-8 13 10 13-8 12-1 13 1" stroke="hsl(24.3,100%,50%)"/>
<path d="M9730 6203l79-490 26-127 13-73 13-54 39-155 52-194 92-324 13-41 26-106 26-92 53-203 39-167 13-43 13-60 13-44 53-209 78-281 53-131 13-29 13-23 13-33 13-22 39-94 66-140 26-47 26-55 13-17 13-36 13-24 13-36 39-78 27-59 13-24 13-12 13-21 13-32 13-8 13-12 13-17 13-3 13-28 27-16 13-21 13-6 13-10 13-17 26-24 13-15 13-10 13-16 13-24 14-17 65-68 13-23 13-7 13-17 26-23 13-24 14-6 13-12 13-16 13-9 13-16 13-8 13-18 13-10 13-7 13-18 27-12 13-12 13-6 13-12 13 4 13-11 13-2 13-9 13-4 26-18 27-7 13-15 13-6 26-19 13-4 13-14 13-5 39-35 27-20 13-8 39-28 13-1 26-17 13-4 13 2 13-9 13-5 27-15 52-23 26-14 13-9 13-5 27-20 13-1 26-18 13-5 13-2 13-10 13 2 13-1 13-14 13 7 13-9 14-3 26-18 13 0 26-13 13-1 13-11 39-4 27-18 13-6 13-16 13 1 13-14 13-19 13-6 13-16 13-7 13-11 27-10 26-3 13 1 13-3 26 3 13 0 13-3 13-9 13 5 13-13 14-3 13-13 26-14 13-13 13-2 13-18 13-9 13 2 13-15 13 2 13-3 14 4 13-8 39-3 13-11 13-7 13-2 13-8 13-1 13-7 27-9 13-15 13 3 13-3 13-11 13 0 13-10 13-7 13-2 13-5 13-1 14-5 13 1 13-11 26 2 13 7 13-9 13 6" stroke="hsl(36.5,100%,50%)"/>
<path d="M9629 6163l68-400 27-134 26-114 81-255 14-48 40-159 14-64 40-144 14-56 13-41 14-54 26-96 14-41 13-56 14-43 27-122 27-108 27-127 67-286 27-101 27-83 27-93 13-29 14-43 67-181 27-65 14-21 13-39 54-117 14-39 27-56 13-35 40-89 27-44 14-29 13-10 14-26 40-66 14-10 13-25 54-78 27-52 13-16 14-26 27-33 13-10 14-28 13-12 27-20 14-7 13-17 14-7 13-14 41-21 13-15 14-1 13-13 13-9 14 1 13-13 41-16 27-24 13-16 27-21 14-7 13-19 14-10 13-16 27-25 41-25 13-12 13 0 14-7 13-9 14 1 40-26 14-4 13 2 14-14 27-20 13-6 14-10 13-3 14 3 13-8 14 2 13-19 13 1 14-4 13-1 27-17 41-18 13-15 14 1 13-5 14-12 27-19 27-13 27-19 13-3 14-17 13-5 13 7 27-17 27-10 14 10 40-15 14 2 13-9 27-6 14 3 13-8 27-8 14-12 13-2 13-14 14-3 13-17 14-10 13-1 14-12 13-7 14-2 13-11 14-3 13 3 27-10 14 2 13-2 14-12 13 3 14-11 26-16 14 0 13-12 41-24 67-14 14 8 13-14 14 8 13-5 14 6 13-8 14 0 13-12 14-4 13-2 27-11 13-1 27-11 14-10 13-1 14 2 13-9 27-7 14 4 13-6 14-11 13 4 14-5 13-9 14-3 13-8 27-9 13-10 27 1 14-4 27-4 27-8 13 9 14-5 13 6 14-6 13-1" stroke="hsl(48.7,100%,50%)"/>
<path d="M9530 6149l13-69 14-91 28-153 28-134 41-157 42-123 28-93 14-34 27-113 14-49 139-550 83-354 28-126 13-51 28-121 28-104 14-63 27-85 28-98 83-241 14-47 14-30 28-98 27-70 14-47 56-118 41-82 14-31 28-49 28-58 27-37 14-35 28-27 41-53 14-8 14-22 14-15 14-22 28-29 14-27 27-40 14-13 14-25 14-12 14-21 14-9 13-21 14-8 28-25 14-1 14-10 14-18 13 4 42-32 14 0 14-11 14-5 13-13 14-17 28-19 14-14 14-10 14-13 27-14 14-13 14 1 28-20 14-3 13-7 14 8 14-9 14 0 14-5 14-1 14-8 13-13 56-32 14-4 41-37 14-3 28-16 14-14 41-6 14-8 14 5 14-6 28-2 27-7 14-11 14 7 14-8 28-4 14-16 13-9 14 3 28-23 14-5 14 0 14-22 13-6 14-15 14-6 14-19 14-12 14-3 14-11 27-4 28 0 14 5 14-2 14 8 13 5 14-6 14 4 14-4 14 1 14-7 27-8 56-41 14-2 14-16 41-14 28 3 14-3 14 6 27 0 14 7 14 1 28-15 41-8 14-9 14-4 14-11 14-2 14-5 13 3 14-7 14 4 14-3 14 1 28-11 13-2 14-7 14 0 28-22 14-2 27-11 28-7 14-7 56 6 13-13 14 8 28-6 14-5 14-1 14-4 13-8 14 5 14-8 14-2 14-6 14 1 14-8 27 3 28-6 14-1 28-9 13 9 14-4 14 1" stroke="hsl(60.8,100%,50%)"/>
<path d="M9447 6189l57-351 28-162 57-260 142-568 14-53 14-39 14-55 71-235 43-150 42-166 43-177 56-219 43-144 14-38 28-92 29-69 14-42 14-29 14-36 15-20 14-42 14-30 28-71 14-30 15-35 14-26 14-47 14-36 57-128 28-56 14-14 15-18 14-23 14-19 14-9 14-16 29-23 14-19 14-14 14-27 28-43 15-14 14-20 28-28 29-39 14 1 28-29 14-8 14-19 29-29 14-20 28-23 15-22 42-34 14-18 14-10 29-29 14-9 14-15 14-2 14-15 15-5 14-11 14 0 14-9 29-8 28-20 14-15 14-8 43-43 28-23 14 0 43-28 28-4 14-6 15-1 14-13 14 3 14-12 28-13 15 3 14-10 28-7 14-12 29-3 14-7 14-14 43-14 14-10 14-7 14-11 14-1 29-18 14 4 14-10 14-14 14 3 29-11 14 5 14-4 14 5 14-7 15 4 14-2 14 5 14-13 28-1 15-10 14 7 14-10 14 2 14-19 15 16 42-24 14-5 29-7 14-13 14 3 28-21 15 5 28-19 14-3 14 2 29-20 14 5 14-5 28 1 14-10 15-1 14-4 14 2 43-13 14 0 14-4 14-10 14 4 29-11 28-5 14-6 14-10 29-1 14-10 14 7 14-11 14-1 15 2 28-11 14-9 14-3 43 3 14-7 14 5 14-3 15 1 28-4 14 3 28-5 15-9 42-15 14 3 14-1 15-11 14-5 14 5 14-8 14 3 29-5 14 3 14-2 14-7 14 0 15-6 14-1 14 8 14-5" stroke="hsl(73.0,100%,50%)"/>
<path d="M9365 6211l29-214 43-291 15-83 29-158 14-61 29-150 29-115 29-135 29-107 58-232 14-51 15-42 43-154 15-36 43-130 15-37 14-54 15-41 43-147 73-258 43-135 29-79 15-27 29-85 58-124 14-37 44-96 58-125 14-26 15-32 14-26 15-20 29-57 14-21 15-28 14-16 15-22 87-108 29-42 29-35 29-41 29-36 14-24 29-21 15-16 43-39 15-3 14-23 15-2 14-16 29-23 15-14 14-26 15-14 14-8 15-12 14-20 15-2 29-27 14-3 15-9 29-3 14-13 15-7 14-18 15-8 14-18 29-24 15-16 29-17 14-13 15-1 14 2 15-12 14 7 15-7 14-3 29-1 44-15 14-14 15-1 14-7 15-14 14-1 15-6 14-14 15-11 14-7 15-14 14-1 15-13 14-6 15-9 14 0 15-4 58-25 14 7 15-14 28-6 15-1 14-11 15 0 14-14 15 1 14-7 29-9 15 5 14-9 15-1 14-6 15 1 14-3 15 0 29-23 14 0 29-12 15-9 14 6 15-14 14 1 15-5 14-1 15-10 14 5 15-9 14-1 15 1 29-13 14 0 15-2 14-6 15-1 14-5 15-10 14-3 15-12 29-17 14-6 15-1 14-5 15 3 14-7 15 2 14-6 15 7 14-3 15 4 14-5 15-2 14 2 15-12 29 4 14-5 29-1 15-7 14 7 15-8 14 10 29-6 15 8 14-2 15-5 14 1 15-7 14-1 29-11 15-4 14 1 15-5 14 0 15 1 29 8 14-4 15 1 14 7 15 5 14-6 15-3 14 1 15 9 14-8 15 9 14-5 15 4 14-5 29 2 15-5 14 1 29-7" stroke="hsl(85.2,100%,50%)"/>
<path d="M9282 6224l44-327 45-298 44-279 15-69 30-159 59-260 45-167 59-201 44-131 45-150 29-82 15-51 59-158 30-89 30-72 14-45 75-192 59-128 15-24 29-55 15-33 15-25 29-61 15-32 30-77 59-131 15-29 44-66 15-34 15-11 15-23 15-20 15-13 14-28 30-29 15-21 15-13 14-21 15-13 30-43 29-33 30-39 15-7 15-14 15-19 44-28 44-44 15-8 15-22 15-8 15-25 15-5 14-12 30-14 15-13 15-3 14-12 15-5 15-7 15-16 29-12 15-10 15-20 30-20 15-5 29-21 15-17 15-3 15-12 14 1 15-20 30 1 44-32 15 9 30-26 15-2 14-14 15-8 15-14 15-5 15-13 15-8 14-10 15-5 15-11 15-3 15-10 14 6 30-16 15-3 15 5 14-13 15 0 15-11 15 5 15-5 15 2 14-9 15 7 15-11 15-7 15-1 14-14 15-1 15-9 15 7 15-5 15-9 14 0 15-11 15-6 15-2 29-21 15-8 59-19 15-4 15 14 15 0 30-4 14 8 15-11 15-1 15 12 15-14 14-5 30-3 15-14 15-3 15-12 14-5 15-1 15-16 30-6 14 2 15-4 30 7 15 6 14-5 15 7 15-11 15 6 15-9 29-9 15-8 15-9 15-12 29-5 15-7 15 4 15-1 15-4 15-7 14 3 15-2 30 2 15-5 44 15 15-1 15 4 29-5 15 2 45-6 14-3 15-11 15 4 15-6 29-4 15 2 15 4 15-15 15 10 15-8 14 3 15-7 15 5 15-9 15 3 14 6 15-10 15 14 30-8 15 4 14-6 15 5" stroke="hsl(97.3,100%,50%)"/>
<path d="M9199 6234l61-503 45-314 61-365 45-230 46-186 45-159 61-189 30-84 45-136 46-125 15-36 15-46 45-111 16-44 15-26 15-41 15-22 30-78 31-56 30-50 15-38 45-92 15-22 16-31 15-20 60-127 106-191 30-37 16-22 15-33 30-25 30-40 31-34 15-12 15-19 15-26 45-60 15-11 46-46 15-7 15-21 15-3 15-21 16-14 15-19 15-10 45-59 15-16 15 0 16-21 30-20 15-8 15-5 15-10 15-1 16-17 15 3 15-15 15-8 15-10 15-4 15-17 15-8 16-11 30-27 15-9 15-15 30-24 16-7 15 0 15-16 15-9 30-10 15-11 15-3 31-17 15-1 15-6 15 3 30-15 16-3 30-20 15-14 15-1 15-14 15 2 31-14 15-3 15 8 15-12 15-5 15 0 15-11 16-8 30-27 15-2 15-11 15-17 15-4 15-8 16 2 15-7 15 9 15-11 30 2 15-6 16-10 15-6 15 1 15-5 15-10 15 0 46-23 15 1 15 4 15-13 15-6 15 0 31-4 15-8 45-12 15-9 46-1 30-8 15-6 30 3 15-7 31-3 15-8 15 0 15-7 15-11 31-2 15-4 15-1 15 5 15-5 15-1 46-17 15 5 15 0 15-7 61-6 15 4 30 1 15 5 15 1 15 6 15-2 31 6 60-8 15-9 61 1 15-4 15 3 30 0 16-7 15-1 30 0 15 12 15-7 15-2 16 2 15 6 15-8 45-2 15-5 15 6 16-11 15 5 15 1 30 6" stroke="hsl(109.5,100%,50%)"/>
<path d="M9124 6277l62-528 46-363 31-216 31-196 46-267 31-145 46-169 15-47 47-138 15-32 15-47 78-185 15-42 31-67 46-94 16-26 30-68 16-25 15-39 47-96 15-28 15-40 16-16 15-31 16-24 15-37 31-57 15-18 16-31 15-21 31-57 16-16 15-27 46-69 16-12 15-26 31-30 31-46 31-38 15-26 15-15 31-40 16-13 15-26 16-10 15-15 15-12 31-33 31-27 16-12 15-6 62-55 15-22 16-16 15-26 15-13 16-25 15-12 31-47 16-12 15-16 15-12 16-9 15-13 31-19 16-6 15-9 15-2 16-19 15-6 16-11 15-17 16-10 15-13 15-9 16-16 46-33 16-15 15-1 15-13 31-16 31-8 31-18 15-3 16-1 15-8 16-5 15-11 15-2 16-14 15-11 16-3 15-17 16-1 15-8 15-11 16-2 15-7 16-1 15-7 16-5 15 1 15-11 16-5 15-2 16-9 15-5 16 0 15-10 31-5 15-7 31 4 16-14 15-3 15-11 16 1 15-10 16 0 46-16 15-2 16-5 15 0 16 9 15-3 16-10 15-1 15 4 16-8 15-17 16 3 15-17 15 2 16-15 15-4 16-9 15-6 62-6 15 4 16 9 15 1 16-8 30 4 47 17 31-5 30-3 16-15 15-2 47-24 15-4 15-12 16 1 15-3 16-9 15 3 16-3 15 8 15-10 16 11 15 3 16 0 15 4 16 2 15-5 15-1 16 6 46-8 16 2 15-12 15 8 16-4 15-11 16 6 15 2 15-4 16-8 15 7 16 3 15-4 16 0 15 6 15 0 16 11 15-8 47 9 15-9 15 0 16-7 15 2 31-17 16-3 15 6 15-4 16 3 31 0 15-2" stroke="hsl(121.7,100%,50%)"/>
<path d="M9092 6248l62-502 31-220 46-306 47-277 16-84 31-144 46-201 63-202 62-176 47-112 15-49 16-35 15-27 16-44 15-35 16-25 15-34 16-40 31-55 31-67 16-25 62-120 62-94 16-19 15-33 31-46 31-55 16-12 15-33 32-47 15-28 16-34 15-25 16-31 15-15 47-68 31-37 16-8 15-14 16-24 31-31 15-20 31-18 16-26 16-5 15-9 31-30 16-3 15-16 16-6 15-16 16-7 16-14 15-8 16-14 31-21 31-32 31-25 31-38 31-21 16-14 31-33 15-1 16-19 15-3 16-8 16-8 15-12 16-1 31-18 15 3 31-6 16-13 16 0 31-12 15-15 16-3 15-8 16 0 31-22 31-19 16-13 15-4 16-8 15-5 47-24 15-2 32-23 31-13 15 0 16-11 31-17 15-2 31-8 16-7 16-4 15-9 16 0 15-8 31 4 16-3 15-10 16 3 16-4 15-13 16 9 15-9 16-1 31-14 15 0 16-10 15 8 16-2 16 1 15-7 16 2 15-5 16 0 15-9 16-1 15-10 32-11 46-33 16-1 15-20 47-16 15 3 16-10 31 3 16-5 31 9 15-7 47 4 16-6 15 5 16-5 31-6 15-6 16 1 15-9 16-3 47-3 31-12 15 6 16 1 31-5 31 3 31 7 16-6 15 5 16-4 31 1 15-5 16-2 16-8 15-1 31 3 16-6 31-4 31 1 15-3 32-13 31 2 31-8 15 4 16 1 31-3 16 8 15-1 31-2 31-6 16 2 15-13 16 4 15-6 16 2 16 11 15-1" stroke="hsl(133.8,100%,50%)"/>
<path d="M9059 6242l63-476 31-217 63-376 63-333 47-207 15-52 16-65 16-46 31-111 63-186 31-91 63-168 31-68 16-43 31-58 16-39 94-168 16-21 15-36 16-16 16-24 15-28 16-22 63-108 31-39 16-24 15-17 16-29 16-14 15-19 16-13 63-62 15-19 16-12 32-39 31-34 16-6 15-25 16-12 16-21 31-23 31-34 16-22 16-11 62-73 16-13 16-9 15-18 16-6 31-8 16-9 16-5 15-10 32-12 31-31 31-14 32-31 15-13 16-3 16-18 15-12 16-8 16 0 31-26 47-16 32-20 15-1 32-21 15-5 16-3 16-10 15-2 47-20 32-20 15-14 16-2 16-9 15 9 16-8 31 6 16-7 16 2 15-6 16-10 16 3 47-15 15-11 16-4 16-11 16-3 15-6 32-8 15 6 16-2 16-9 15 0 16 4 16-13 15 16 16-11 16-6 15-8 16 0 16-11 15-8 16-11 16 3 15-10 16-6 31-18 16-2 16 5 15-7 32-2 15 1 16-4 16 1 15-2 16 2 16-10 15 14 32-12 31-17 16-3 16-17 15 1 16-9 16 0 15-4 16-15 16 9 15 0 47-7 16 8 16 4 31 3 16 7 15-4 16 0 31-13 32-17 15 0 16-5 16-10 47-11 15 1 16-5 16 2 31-2 16-9 15-1 16-8 31 0 16-4 32-2 15 5 16-6 16 1 15 5 16-3 16 1 15 4 16 1 16-5 31-2 16 4 31-14 16 1 15-11 16-2 16 4 31-6 63 9 15-3 16 5 16 0 15 3 16 2 16-1 31 7" stroke="hsl(146.0,100%,50%)"/>
<path d="M9027 6268l63-471 32-211 31-195 64-344 15-72 16-89 32-125 16-71 47-180 63-213 63-196 16-37 32-87 16-29 15-43 16-28 16-35 32-59 15-36 32-55 63-118 16-22 16-35 16-25 47-66 16-31 16-19 15-23 16-33 16-10 16-22 16-32 15-14 32-51 16-17 16-25 31-27 32-23 16-15 15-18 16-5 32-26 16-9 15-19 32-23 16-15 16-24 15-17 16-10 16-15 32-8 15-26 16-5 16-1 16-15 47-30 16-18 16-14 16-7 15-20 16-8 16-20 16-9 16-14 15-8 16 0 32-20 31-14 16 3 16-9 16-11 16 4 31-3 16-12 16-7 16 1 15-12 16-6 16-5 47-9 16-11 16 0 16-15 47-13 16-11 32-15 31-20 16 9 16-1 16-12 15 6 16-3 16 0 16-11 16 0 47-24 32-2 15-8 16 0 16 3 16-6 16-2 15-9 16-3 16-7 16-3 16-14 31-16 16 2 16-9 16-6 15-11 16 0 16-8 16 1 16-8 63-3 16-3 31 0 32 2 47-6 32 0 16-2 15-9 16 2 16-4 16-1 16-6 15-2 16-9 32-2 16-8 15 0 32-15 16 4 16-9 15 0 16-6 16 3 16-5 16-1 15-7 32-4 16-8 16-5 15-11 16 3 16-2 16-12 16 4 15 0 48-14 16-14 15 3 32-10 32 2 15-12 16 9 16 1 16-4 16 3 15-1 16-5 16 3 16-7 16-3 15-10 16 6 16 0 16-14 16 1 15-12 16 10 32-1 31 7 16 7 16-2 16-5 16 8 47-14 16-2 31-10 32-4 16-7 31-1 16-7 16 1 16 6 16 2 31-6" stroke="hsl(158.2,100%,50%)"/>
<path d="M8995 6214l32-225 63-412 32-174 48-238 48-219 95-411 80-299 32-100 16-41 15-49 16-27 16-41 16-25 16-35 32-62 16-27 32-48 16-30 32-70 15-21 16-38 32-49 32-64 16-16 16-28 32-46 32-51 16-18 16-23 15-13 16-21 16-11 16-25 32-24 16-22 16-11 32-35 16-12 32-12 15-20 16-6 16-19 32-27 16-21 32-26 48-49 16-10 31-30 16-7 16-11 16-16 16-4 16-17 32-12 32-6 16-9 32-10 15 8 16-15 16-5 16-2 16-11 16-4 16-9 16-5 16-16 48-16 32-15 15-3 32 0 16-10 16 3 16-19 32-10 16-10 16-6 16-11 16-3 16-9 31-1 16-8 48-3 16-7 48-11 16-6 16-4 16-10 15-1 16-4 16 3 32-8 48-2 48-15 16 2 31-13 32-6 32-12 16-3 16 5 16-3 16 1 16-3 16 2 16-2 16-6 16 3 15-12 16-3 32-13 48-29 32-1 16-9 16 0 16 4 16-7 15 2 32-9 16 1 16-5 16-8 16 3 16-8 16 0 16-10 32 0 16-4 15 2 16-7 16 1 32-11 16 2 16-2 16-13 16 2 16-10 32-7 32 3 15-7 16-4 16-7 16 7 16-6 16 3 32-7 16 0 32 6 32-1 15 5 32-5 16-4 16 2 16-10 32-12 16-3 16-10 32-6 16-14 15 3 16-6 16-2 32-13 32 3 16-13 16 11 32-2 16 4 16 0 15-3 16 1 16 10 32-12 16-2 16 4 32-16 48 3 32-14 15 9 16-9 48 4" stroke="hsl(170.3,100%,50%)"/>
<path d="M8961 6217l48-309 64-369 32-161 49-222 32-134 80-315 16-56 48-197 32-110 16-64 16-46 17-56 32-99 32-92 16-31 16-43 16-30 16-38 64-121 64-115 33-49 32-41 16-25 16-21 32-18 32-28 16-12 16-6 32-28 16-8 16-17 16-22 16-10 16-20 16-24 33-37 16-13 64-82 48-52 32-14 16-15 16-4 16-7 32-8 16-13 17 10 16-13 16-5 16-10 16-3 16-11 16-6 16-9 16-6 16-15 48-11 32-5 16-12 16-4 33-19 32-22 16-17 16-10 16-5 16-10 32-10 16 0 16-6 32 7 16-14 16 5 48-7 16-5 17 2 16-7 16-11 48-2 16-13 32-1 16 5 16-6 32-3 16-7 16-4 16-11 16 8 16-10 17 2 16-3 16 0 16-5 16 1 16-6 16-2 16 0 16-7 16-12 16-4 16 4 32-17 32 2 16-8 16-1 17 4 16-9 16-2 32-10 32-1 16-4 16 7 16-1 16-8 16-1 16-4 16-1 32-17 16 1 32-8 17 0 16-13 32-15 16-3 16-11 16-4 16-7 16 14 16-8 16-5 48 7 16-2 16 5 16-1 16-11 17 7 16-8 16-1 16-8 16-4 32-13 16 0 48-5 16-9 16-3 16 10 48-17 16 3 49-20 16 3 16-8 16 5 16-7 16 5 16-1 16-4 32-3 16 0 16-1 16-10 16-5 16 2 16-1 16 3 17-10 16 7 32-4 16 14 16-9 16 1 32-14 16-1 16-18 16-12 16 2 16-8 16-10 32 2 16-6 17 4 16-7 16 5 16-9 16 6 16-7 16 3 16-19 16 5 16 0 16-2 16 2" stroke="hsl(182.5,100%,50%)"/>
<path d="M8922 6221l32-201 17-89 48-306 49-249 32-145 49-181 32-101 33-116 16-66 32-112 17-48 32-128 49-156 16-47 32-78 16-31 33-83 48-101 33-81 16-30 32-70 33-60 48-82 33-43 16-15 16-26 16-19 65-68 49-57 32-24 17-22 48-40 16-5 33-28 16-6 16-12 16-17 33-18 16-14 16-9 16-17 17-8 16-11 16-22 16-10 16-4 17-12 16 3 16-16 16-10 49-12 16-7 16-12 16 3 33-16 16-1 16-15 17 3 16-12 16-7 16-10 16-4 33-19 16-3 16-10 16 4 33-19 16 4 16-6 33-6 16-10 16 3 16-13 16 1 33-19 16-1 16-10 16-14 17-1 48-23 49-19 32-10 16 3 33-5 16 12 16-3 33 1 16-7 16 4 16-7 17-10 16 7 32-16 16-10 17-7 16 1 16-11 16-2 16 7 33 0 16-5 16 3 16-5 17-1 16 3 32 4 16-12 17-3 32-3 16-10 16 0 17-6 16-4 32-4 16 4 17-8 32-1 33-4 48-12 16 3 17-6 16-9 16-4 16 0 16-4 17-11 16 6 16-9 49-9 32 1 16-5 16-9 17 5 32-13 16 3 16-9 17-2 16-10 16-3 16-10 16 2 17-4 16 2 16-1 16 5 16-5 17 3 32 1 16-8 16-1 17-4 16-7 16 2 16-16 17 2 16-7 16 5 16 0 33-10 32-6 32 2 17-3 32-10 16 4 33-5 16-11 16 4 16-7 33-8 16 2 32-17 33-2 16-6 32-1 16-2 17-10 16 8 16 1 16-8 16-3 33-1 32-13 17-1 16 10 16-6 16-3" stroke="hsl(194.7,100%,50%)"/>
<path d="M8883 6210l82-452 65-295 66-250 16-74 16-50 49-198 50-180 16-53 16-66 66-196 49-130 49-117 16-35 17-43 16-28 16-34 33-75 33-58 49-81 16-14 33-43 16-17 33-43 33-31 16-21 16-17 17-23 16-5 33-38 32-26 49-31 17-16 16-12 33-18 16-14 17-6 16-26 16-1 66-55 16-7 16-23 33-12 17-20 32-11 17-7 16-2 16-15 17 1 32-6 17-9 16-5 16-13 66-26 33-4 16-6 16-3 49-19 17-17 16-1 16-8 33-22 16-19 17-12 16 10 17-15 16-2 16-13 33-4 16-10 33-8 16 2 17-13 49-7 16-6 33-1 16-11 17 0 16-12 16-5 17-11 32-9 17-1 16 2 16-6 17 0 16 5 16-5 17-10 49-17 16 3 17-11 32-12 17-13 65-7 33 1 16-8 17 4 16 6 33-5 16 2 16-4 17 3 32-7 33-3 16-6 33-5 16 2 17 6 16-9 17 11 16-1 16-11 17 6 16-8 16 3 17-3 16 4 16-12 33-9 16-11 17 1 16-1 49-13 33 1 16-8 49-9 33 8 33-6 16 8 17-8 16 3 16-4 17-11 16 2 16-7 33-6 16-9 17 2 16-4 16-1 17 4 16-3 49-27 17-2 16 0 16-6 49-8 17 1 16-7 16-3 17 0 16-11 16 0 17-4 16 2 17 6 16-11 16 6 49 3 17-5 16 4 16 1 33-9 16-1 33-17 17-2 32-16 17 2 16-17 16-6 17 8 16-9 16-3 17 1 16-4 33 9 16 0" stroke="hsl(206.8,100%,50%)"/>
<path d="M8844 6199l83-438 49-216 33-131 33-120 50-165 33-101 33-109 16-65 50-142 33-108 33-84 16-48 66-164 17-47 16-27 17-48 33-67 33-61 16-23 17-9 16-38 17-20 33-46 16-15 17-24 66-85 16-12 33-28 33-31 17-7 16-14 17-7 16-12 50-42 33-23 16-15 17-12 33-36 17-24 16-10 17-21 16-9 17-19 33-23 16-8 33-26 33-12 17-9 16-13 17-6 33-19 16-11 50-12 16-7 17-12 33 3 16-15 17-12 16-3 17-12 16-15 33-14 17-1 33-20 16-8 17-12 16-7 17-3 16-11 17-2 16-14 17 1 16-17 17 0 16-16 17-4 16 0 17-4 66-4 16-6 17 4 16-5 17 4 33-8 33-3 16-13 17 4 16-10 17-4 16 0 33-4 17-6 16 5 17 2 16-7 17-3 16-1 33-14 17 6 16-14 17 0 16-3 33-11 17-2 17-7 16-3 17-10 16-7 17-4 16-8 17-11 16 4 17-12 33-4 16-4 17 6 16-12 17 6 16-8 17 0 16 5 17-5 49 1 17-3 16 4 17-1 16-11 17 7 16-2 17-4 16 3 33 1 17-5 33 4 16-8 17 3 16-3 17-5 33 1 33-8 16-8 17-1 16 8 17-5 16-7 50-12 16-12 33-3 33-18 17-5 33-3 16-13 17 5 16-4 17 3 16-11 17 4 16 8 17-4 16 5 50-6 16-7 17 8 16-9 17 1 16-7 17 5 16-10 17 4 16 9 17-5 16 7 17-5 33 8 50-11 16 6 17-10 33 3 16-8 17-2 66-34 16-1 33-21 33-9 17-1 16 3 17-1 16 8" stroke="hsl(219.0,100%,50%)"/>
<path d="M8805 6171l83-394 50-201 34-122 66-217 167-480 83-224 33-74 17-26 33-76 17-34 17-25 33-71 17-21 16-28 34-69 16-22 34-51 33-39 17-14 16-22 34-34 16-14 17-18 17-12 33-38 17-7 16-17 17-8 33-33 17-8 16-13 17-10 33-33 17-13 17-11 16-6 34-29 33-22 17-16 16-7 17-20 17-15 16-10 17-15 17-21 16-9 17-4 17-15 83-48 17 1 16-13 17 1 17-12 16-1 17-7 33-1 33-14 17 2 67-42 16-3 17-16 17-4 16-10 17-7 17-1 16-4 17-14 17 3 16-7 17 8 17-2 16 0 17-5 17 3 16 1 17-10 17 1 16-5 34-17 16-10 17-13 17-5 16-13 33-13 67-8 33-1 17-5 33-5 17 0 17-6 16 5 17-15 17-3 16 2 34-13 33-3 33-6 34 0 16-4 50 1 17-5 33 7 17 0 33-9 17 3 16-6 34 3 33-14 33 4 17-11 17-6 16-9 17-3 17-14 16-4 17-14 17 7 16-8 17-4 17 3 16-4 34 7 16-6 17 7 17-10 33 5 17-11 16-7 17 2 16-11 17-1 33-12 17 2 17-11 16-1 34-13 16 0 17-7 17 0 16-5 17 0 17 5 16 2 17-8 17 3 16 7 34-2 16 5 17-10 33-3 17-8 33 3 17-5 17-3 66-4 17-8 16 5 17-3 17 0 16-3 17 3 33-8 17-1 17-9 16-14 17-8 33-10 17-9 17 1 16-6 17-14 17 1 33-7 33-11 17-12 33-13 17-12 17-2 16 4 17-7 16-5 17 7" stroke="hsl(231.2,100%,50%)"/>
<path d="M8759 6166l118-527 16-52 34-124 67-208 85-243 33-82 17-52 17-32 17-42 17-32 16-40 17-25 17-36 34-64 17-41 16-20 51-103 34-51 16-32 34-52 17-34 17-17 33-55 17-18 17-29 34-33 17-29 16-15 17-19 17-9 17-27 17-13 17-7 16-21 17-13 17-17 51-43 17-10 16-14 34-31 17-6 17-12 17-7 33-22 34-12 17-16 33-13 17-16 17-6 17-12 17-7 17-5 16-14 17-20 34-15 34-20 67-66 17 0 33-28 17-4 17-11 17 0 17-8 17 2 16-11 17 1 17-1 17-9 17-2 17-19 16 4 17-7 17-1 17-15 17-5 17 2 50-23 17 6 17-4 33-18 17 6 34-20 17 1 17-12 33-11 17-3 17-13 17-4 17-8 16 5 34-17 34 11 17-7 17 3 16-9 34-8 17-7 17 2 17-9 16-6 17-1 17-5 17-8 67-15 34-6 17 7 17-6 16-2 17-6 17-1 17 3 17-1 33-11 17 1 17-4 51-23 16-4 17 1 17-2 17-13 17 9 17-6 16 1 17-4 34 4 17 0 17 3 16-6 17-2 17-10 17 2 17-7 17-18 16 4 17-10 51-10 17 1 50-8 17-1 17 4 33 2 17-4 17 3 34-10 17 1 17-10 16-3 17-18 17 1 17-8 17 1 33-21 17 1 17-2 17-6 34-9 16 5 17-9 17 2 17-5 34 5 16-5 17 7 17-1 17 2 17-5 17 1 16-4 17 11 17-4 17 4 17-7 33 1 17-17 17-2 34-16 33-9 17-8 34-4 17 5 17-11 16-1 17 1 17-5 17-3 17 0 17-11 16 1 17-13 17-5 17-1 17 1 33-7 17 5 17-2" stroke="hsl(243.3,100%,50%)"/>
<path d="M8692 6139l35-152 17-66 17-81 51-204 17-62 69-219 17-48 51-128 17-36 17-44 34-78 17-47 17-33 18-44 17-33 17-40 68-139 34-55 17-35 17-18 18-32 34-41 17-31 17-13 34-45 34-31 34-46 69-80 17-25 68-68 34-20 18-5 17-12 34-10 34-32 34-22 17-18 34-23 18-17 17-7 34-25 17-4 34-30 17-11 17-7 17-16 17-5 18-20 17-10 17-20 17-10 34-27 17-10 17-7 17-20 34-33 18-7 17-14 17-9 34-23 17-5 34-19 17-2 17 5 17-9 35-3 17 2 17-7 34-5 17-12 34-7 17-13 17-3 35-19 17 3 17-9 17-5 17 0 17-5 17-2 34-17 17-13 18-7 17-14 34-19 17-9 17-3 17-13 34 1 34-4 18 2 17-8 17 4 17-8 34-3 34-9 17 6 17 2 18-7 17-4 17-1 34-5 17-7 17 5 17-8 17-14 17 7 17-5 35-17 17-5 17-2 34-10 34 8 34-4 17-3 18 2 17-11 17 0 17-9 17 0 17-6 17-19 17 9 17-12 52-15 17-10 17 2 34-8 34 1 17-2 17-7 17-5 17 0 35-8 17 2 17-8 17 1 17-7 34 7 17-4 17 5 35-16 34-11 17-1 34-8 17-1 17-10 17 8 17 0 17-11 18 8 17-4 34 1 17-5 17-9 34 2 17-4 52-21 17-3 34-2 17-3 17 6 17-3 17 8 34-17 17 3 18-6 17 2 17-4 17 2 17-5 17 2 17-6 17 3 17-3 17-6 17 5 18-7 17-3 17 5 34 0 17-7 17 2 17-4 17-10 17 4 17-11 52-10 17-9 17-17 34 7" stroke="hsl(255.5,100%,50%)"/>
<path d="M8626 6124l17-60 52-217 18-60 17-74 52-158 18-38 34-93 87-198 17-43 35-74 35-80 17-30 35-76 17-29 35-65 17-39 52-94 52-71 18-27 17-17 17-22 18-15 17-21 35-29 17-18 35-49 17-19 35-46 17-15 70-71 34-23 52-45 18-7 17-22 17-9 52-35 35-27 35-21 34-29 18-12 17-3 17-22 53-41 17-17 17-6 35-19 17-5 18-9 17-6 17-17 35-5 35-20 17-6 17-15 18-5 17-11 35-11 17-12 17-6 18-11 17 4 18-15 17-2 35-9 17 1 35-12 34-7 18-13 17-6 17-9 18-12 17-7 17-16 18-5 17-9 17 1 18-7 52-6 35-7 17 1 17 3 18-7 17-11 17 4 18-7 17 2 17-3 18-14 52-20 34-21 18-2 34-23 18 7 17-14 17-11 18 9 52-13 17-7 18 6 17 0 17-12 18 3 34-6 18-1 17-5 17-11 18-7 17 4 17-11 18 0 17-11 35-2 34-11 18 5 17-11 18 4 69-11 17-9 18 9 17-5 35-1 17 3 17-3 18 6 17-9 17-4 18 3 17-9 17 2 18-14 17-5 17-7 18 1 17-11 17 2 35-6 35-2 17-8 18-1 17-9 17 4 18-4 17-8 17 0 18-8 86-13 35-7 17 2 18-7 17 0 17 8 18-5 17 8 18-3 17-6 17 7 18-6 17-5 17 2 18-5 17-8 17-1 18-6 17 1 17 4 18-11 17 2 17-9 18 2 17-14 17 9 18-7 17-12 17 2 18-1 35-11 17 4 35-14 17 0 17 4 35-7 17 5 18-9 17-2 17 7 18-9 34-8 18-9 17-4 17-14 18-3 17 3" stroke="hsl(267.7,100%,50%)"/>
<path d="M8481 6472l36-143 18-86 53-205 18-57 18-70 54-179 54-154 36-78 35-67 18-39 18-29 54-109 18-37 18-46 18-34 35-85 72-139 18-21 18-33 36-53 18-20 18-29 35-47 18-19 54-74 54-61 18-14 18-20 17-9 54-45 18-8 18-21 18-12 18-24 18-14 18-28 18-14 17-21 36-31 18-10 18-17 18-11 18-19 18-12 18-16 18-12 35-18 18-12 54-22 18-11 18-6 54-24 53-32 18-5 18-8 18-5 18-15 18-3 18-15 18-3 18-8 35-19 18-13 18-2 18-9 18-16 36-20 18-4 18-20 18-4 17-18 18-3 18-14 18-6 36-26 54-11 18-3 18 2 53-10 18-10 18-4 54-16 18-3 18-10 18-3 17-6 18 0 18-14 18 1 18-4 18-7 18 3 18-1 36-15 17 1 18 5 18-8 18-2 18-10 18 1 18-11 18 1 54-19 17 2 18-11 18-18 18 0 18-11 18 1 18-13 18-3 18 0 18-16 18-1 17-5 18-11 18-1 18 2 18-9 18 8 18-7 18 0 18-4 18-8 18-2 35-9 36-1 18-6 54-5 18-3 18 4 18-6 35 4 18-2 18 5 18-10 18 1 54-8 36-1 17-6 18-9 18 4 36-11 18 3 18-12 36-15 18-2 17-9 18-2 18-6 18 0 18-16 18 5 54-6 53 3 18-5 18 13 18-7 18 8 18-11 18-1 18-3 18 2 36-12 17 8 18-9 18-3 18 0 18-10 18 2 18-7 36-2 18-3 18-1 35 3 18-12 36 0 18-4 18 0 18-6 54-4 17-7 18 1 18-5 18-10 18-2 36-13 18-1 18-6 53-6 18-5 18 3 18 7" stroke="hsl(279.8,100%,50%)"/>
<path d="M8429 6450l90-388 18-56 19-44 36-126 36-113 72-166 73-143 36-56 18-34 55-82 18-32 18-20 54-98 18-41 36-50 19-33 18-25 36-65 18-21 18-26 18-16 36-50 37-38 18-33 36-36 36-48 73-57 18-22 18-12 72-61 18-17 19-20 36-30 36-38 18-5 18-20 18-8 18-24 37-28 18-17 18-12 18-8 18-17 18-8 18-11 18-5 18-8 19 0 18-14 18 0 36-7 18-1 54-18 37 0 54-13 18-10 18-14 18 2 37-22 18-6 18-21 18-5 36-33 18-3 18-12 18-7 19-15 18-5 18-12 18 0 18-9 36-12 18-9 18-5 19-1 18-12 18-4 36-16 18-11 36 0 18-11 55-5 18-9 18-1 18 4 36-11 36-23 19-1 18-12 54-14 18 3 36 1 37-3 18 5 36-3 18-8 18-5 18 5 18-13 18 1 37-12 18-9 18-6 54-27 73-31 36-1 36-8 18 1 18 8 37-8 18 2 18 9 18-6 18-2 18-8 36 3 18-8 19 2 18-1 36-13 18 3 18-1 18-6 18-9 36-10 19-8 36 3 18-9 18 9 18-1 18-12 36-5 19 6 18-9 18-3 18-9 18-4 18 1 36-7 18-5 19 1 18-6 36-6 18 7 18 2 18-1 18-5 18 6 37-11 36-2 18-12 18 3 54-8 37-12 18 2 18-9 18 0 18-9 18-5 18 8 18-6 37 0 18 5 18-2 18 5 18 0 18 3 18-6 36-4 19-10 18-7 36-3 36-13 54-4 37-7 18 4 18-2 18 5 18 1" stroke="hsl(292.0,100%,50%)"/>
<path d="M8190 6472l38-100 19-55 38-86 19-48 57-108 19-26 19-37 19-27 19-33 38-56 57-91 114-220 95-156 20-38 19-28 19-36 38-56 19-35 19-24 38-66 19-27 19-22 19-32 76-108 19-20 19-36 57-68 19-13 19-23 19-30 19-6 19-27 19-13 19-18 38-53 20-20 19-27 38-50 19-17 19-23 38-35 19-15 19-9 57-44 38-19 38-13 19-15 57-24 19-12 19-4 38-25 19-3 19-14 19-5 38-18 20-3 19-14 19-8 19-17 19-12 19-15 19-9 19-5 19-2 19-14 19-7 19 5 38 0 19-4 19-1 38 1 19-9 19-5 19-10 19-6 95-46 38-9 19-15 20-6 19-12 57-15 19-8 19-2 38 3 19-4 38-18 38-1 38-16 19-6 19-13 19-4 38-23 19-9 19-3 19 0 19-9 19 1 19-13 19 4 19-7 19-1 20-13 38-7 76-27 19-1 57-10 19 3 19-7 38 2 19-8 19 5 19-12 19 3 19-6 19-12 19 2 19-1 19-6 19 4 38-10 19 1 19 5 19 1 20-4 19-8 19 2 19-14 19 5 19-8 38-7 38-2 19 5 19-4 19 8 19-6 19 3 19-12 19 2 19-5 19-11 19 0 38-13 19 5 19-9 38-2 19-3 19 2 38-11 20 1 19-4 38 1 19-3 19 0 19-5 19-9 19 1 38-13 19 3 19-7 19-2 19-12 38-6 57-1 19-4 19 14 19-8 19-2 19 7 19-5 38-4 19 6 19-10 20-5 19 4 19-10 19-2 38-14 19 1 19-12 19 2 19-4 19 2 19-4 19 1 19 9 19 5 19-3 38 5 19 5 19-3" stroke="hsl(302.0,100%,50%)"/>
<path d="M8173 6383l19-44 38-105 19-41 19-56 19-40 58-141 19-32 57-117 19-31 19-39 19-22 19-35 19-23 20-31 38-43 19-27 19-18 57-75 19-12 39-42 19-17 19-29 38-37 19-27 19-16 19-35 19-21 19-27 20-23 19-16 19-29 38-45 19-14 19-24 19-18 19-27 19-18 19-27 20-12 19-16 19-27 38-33 38-39 38-24 39-41 19 3 19-29 19-10 19-17 19-22 19-14 19-20 19-13 19-4 39-38 19-15 38-25 19-20 19-6 19-9 19-6 19-22 20-3 19-23 19 0 19-15 38-38 19-5 38-30 19-7 20-13 19-5 19-18 19-3 19-13 19-2 19-10 57-19 39-14 19-1 19-16 19-5 19-12 38-8 19-19 38-15 20-1 19-11 19-6 19-4 19-1 19-12 19-4 19 2 38-20 20 1 19-5 19-14 19-6 19-3 19-10 57-11 19 5 20-1 19-8 38 0 19-4 19-9 57-3 19-11 20 5 19-6 19 0 19-9 19-3 19-9 19 0 19-9 38-6 20-8 19-13 19 2 19-2 19-8 19-1 19 1 19-4 19 5 38-10 20 1 19-8 19 0 38-15 19 1 19-5 38-2 19-7 20 0 19 5 19-4 19-9 19-4 19 6 19-8 38-2 19-5 20 1 19-9 19 5 57-16 19 3 19-8 19 1 77-20 19-1 19-13 19 3 19-7 38-10 19 0 20-4 19 1 38-3 38 1 19 8 19-8 19 4 39 3 19 5 19-5 19 2 19-2 19 2 38-4 19-15 19 0 19-9 20-15 38-10 19-2 19-9 19 6 38-10 19-2 19 6 39-4 19 2 19-14 19-3 38-10 19 1 38-11 58 12 19-8 19 13 38-13 19 3 19-13 19-1 20-5 38 3 19-12 38 7 19 0" stroke="hsl(315.0,100%,50%)"/>
<path d="M8126 6331l39-119 38-102 58-139 20-37 38-84 58-98 19-27 77-88 39-24 19-23 19-19 20-6 58-61 19-9 19-23 19-12 20-16 19-8 19-11 19-24 20-15 19-26 19-14 20-23 19-16 19-26 39-35 19-26 39-34 19-19 38-46 20-11 19-17 19-11 39-30 19-10 19-15 39-22 19-8 19-10 20-21 38-17 20-18 19-11 19-6 39-26 19-8 38-31 20-7 38-29 20-17 19-10 58-42 19-9 19-19 20-14 57-59 58-46 39-42 38-30 20-8 19-29 19-3 19-8 20-19 19-3 19-21 58-28 19-19 39-19 19-13 19-4 39-23 58-21 19-13 39-10 19-20 19 6 19-8 20-4 19 4 19-5 39 1 19-5 19 9 20-11 38-3 20-4 19 0 19-14 19 0 58-10 19-1 20-8 38-4 20-12 38-3 19 1 20-8 19-5 19-3 20-7 38-7 19-1 20-15 19 3 19-10 19-7 20-1 38-16 20 7 19-18 19-12 19 3 20-4 19-2 19-6 20-1 38-10 19 0 20-6 19 0 19 6 39-9 19 6 39-9 19 9 19 0 39-14 19 9 19-12 20-1 19-7 19-1 19-3 20-9 19-6 38 3 39 13 19-4 20 9 38-5 39 4 19-5 38-15 20 0 58-24 19-9 19-1 19-4 78 3 19-7 19 3 19-5 20 0 19-7 19 2 19-12 20 4 19-6 19-2 39-9 19-10 19 6 20-1 38-9 20 0 38-11 19-1 20-9 19-3 19-10 19-4 20 1 19-6 19 5 20-1 19 3 19 8 39-6 19 9 19-6 20-1 38-10 19 4 20-3 19-11 38 1 20-4 19 2 19-11 20 5 19-5 19 5" stroke="hsl(328.0,100%,50%)"/>
<path d="M7915 6409l60-125 60-108 41-64 60-108 40-56 20-42 20-26 20-21 41-60 20-24 40-40 20-27 60-63 20-15 20-20 20-15 21-26 20-18 20-13 20-16 20-24 20-13 20-19 40-29 61-56 20-9 20-21 20-9 20-18 20-9 40-33 20-6 20-12 21-4 20-11 40-14 20-9 20-3 40-19 20-16 20-6 20-10 21-11 20-15 40-15 20-3 20-15 20-4 20-17 20 0 20-18 20-3 21-19 20-7 20-13 60-18 20-7 20-14 20-3 20-11 21-5 20-11 20-16 20-8 20-23 20-14 40-23 20-16 20-2 41-31 20-12 20 0 20-8 20-12 20-6 20-13 20-2 20-11 20-4 41-18 40-11 20-8 20-11 20 1 40-27 20-2 20-9 21-2 20-11 20-1 20-8 20 3 40-2 20-2 20-10 20 1 20-11 21-6 20-9 20-11 20-3 20-7 20-14 20-6 20-9 20-3 20-6 20 0 61-5 20-10 20 7 20 4 20-9 20-2 40-10 21 2 20-10 20 2 20-8 20 4 20-9 60 0 20-2 20 2 21-8 20 6 60 2 20-14 60-10 40-12 21-4 20 4 20-2 20 5 40-11 40 3 20-2 20 2 21-1 20-13 20 8 40-13 20-3 20 0 20-7 20-4 20-7 20 4 21-4 20-12 20 4 40-9 20 1 20-8 20-1 20 2 41-1 20 4 20-3 20 11 20-2 20 3 20 5 20-1 40-8 20 4 41-28 20 2 80-23 40-5 20 4 20-9 61-3 20 1 20-8 20 3 40-10 20-1 20-14 21-3 20 0 20-11 20-5 20 5 20-3 20 2 20-8 20 7 20-2 20 9 41-7 20 10 20-6 20 8 20-4 20 0 40-7 40 4 41-3 20-6 40 0 20-4 20 0" stroke="hsl(337.0,100%,50%)"/>
<path d="M7566 6474l21-27 43-46 22-27 21-21 22-28 85-98 22-29 43-43 21-15 64-68 22-7 21-24 43-36 22-24 43-33 21-29 21-16 43-39 43-36 43-29 22-18 21-12 21-16 65-37 21-20 22-6 21-17 43-18 21-11 22-15 21-7 22-11 21-14 22-10 21-12 21-20 22-14 64-31 65-37 21-16 43-23 43-17 128-68 22-2 21-12 22-17 21-4 22-11 21-13 21-5 22-10 43-27 21-6 22-9 43-27 21-3 21-8 22-11 21-6 43-20 43-4 22-4 21-11 21 4 22-12 64-8 22-14 21 5 21-13 22-6 21-10 22 0 21-11 22-5 64-27 21-1 22-14 21 8 22-9 21-2 22-10 21-2 22-10 21-1 21-8 22-16 21-4 22-8 43-20 42-8 22-7 21-12 22 1 21-3 22 0 21-7 22 9 21-6 21 3 22-8 21 2 43-13 22-3 21-12 22 2 42-28 22-5 43-22 21 5 22-10 21 4 22-10 21 3 21-6 43-2 22 4 21-11 22 6 21-3 21 1 65-14 43-2 21-10 22-4 21-11 21-1 22-11 21-5 22-9 21-1 22-14 43 7 21-11 21 6 22-2 21 4 22-2 43 3 21-5 43-5 21 1 22-3 43-16 21 3 22-8 21 2 21-10 43 2 22-6 21 2 22 8 21-1 22-5 21-7 21 5 22 1 21-2 22-4 21 0 65-16 21-7 21-11 43-12 22 1 21-12 22-3 21-5 43-5 21-7 22 4 86-8 64 2 21-1 22 2 43 1 21 6 22-7 21-4 21-1 22-16 21 0 22-12 21-3 22-7 43-8 21-1 21 7 22-3 64 21 22 3 21 6 21-7 22 9 21 0 22-3 64 4" stroke="hsl(345.0,100%,50%)"/>
</g></g>
<g clip-path="url(#cc)"><g transform="scale(0.1)" fill="none" stroke-width="25" stroke-linejoin="round">
<path d="M1059 7839l376 350 78 80 125 138 63 76 51 71 52 83 71 127 39 76 58 121 158 344 119 275 115 283 107 284 143 401 58 172 145 444 54 156 230 633 33 82 30 68 61 122 60 107 52 82 86 123 22 28 25 30 34 35 34 31 34 29 64 43 41 23 27 13 27-13 41-23 64-43 34-29 34-31 34-35 25-30 22-28 86-123 52-82 60-107 61-122 30-68 33-82 230-633 54-156 145-444 58-172 143-401 107-284 115-283 119-275 158-344 58-121 39-76 71-127 52-83 51-71 63-76 125-138 78-80 376-350" stroke="hsl(0.0,100%,50%)"/>
<path d="M1059 7831l389 358 79 80 143 156 65 79 53 77 70 116 58 104 60 118 60 125 38 83 77 176 114 278 185 471 109 292 73 204 57 170 142 446 53 156 231 633 48 116 60 126 64 118 63 101 97 141 25 30 33 37 64 58 33 26 38 27 64 36 64-36 38-27 33-26 64-58 33-37 25-30 97-141 63-101 64-118 60-126 48-116 231-633 53-156 142-446 57-170 73-204 109-292 185-471 114-278 77-176 38-83 60-125 60-118 58-104 70-116 53-77 65-79 143-156 79-80 389-358" stroke="hsl(8.0,100%,50%)"/>
<path d="M1059 7823l403 366 99 101 142 154 49 60 54 77 72 117 80 141 62 119 41 86 74 167 73 182 146 380 185 472 74 199 65 186 139 448 81 243 231 632 48 116 60 126 63 118 56 91 102 151 56 66 62 59 68 52 60 37 60-37 68-52 62-59 56-66 102-151 56-91 63-118 60-126 48-116 231-632 81-243 139-448 65-186 74-199 185-472 146-380 73-182 74-167 41-86 62-119 80-141 72-117 54-77 49-60 142-154 99-101 403-366" stroke="hsl(16.1,100%,50%)"/>
<path d="M1059 7815l416 374 100 101 161 173 52 65 74 110 97 163 64 115 64 128 35 79 35 85 69 185 140 380 189 471 75 199 65 186 136 449 55 170 50 144 152 407 55 154 48 116 59 126 63 118 55 91 100 151 55 66 60 59 65 52 56 37 56-37 65-52 60-59 55-66 100-151 55-91 63-118 59-126 48-116 55-154 152-407 50-144 55-170 136-449 65-186 75-199 189-471 140-380 69-185 35-85 35-79 64-128 64-115 97-163 74-110 52-65 161-173 100-101 416-374" stroke="hsl(24.1,100%,50%)"/>
<path d="M1059 7807l432 382 80 80 183 194 53 65 56 81 118 191 65 115 65 129 34 77 34 85 202 567 76 192 114 280 76 197 65 187 54 175 80 274 54 170 76 214 126 337 55 154 33 82 59 130 65 128 65 111 93 142 52 67 55 57 61 53 64 46 64-46 61-53 55-57 52-67 93-142 65-111 65-128 59-130 33-82 55-154 126-337 76-214 54-170 80-274 54-175 65-187 76-197 114-280 76-192 202-567 34-85 34-77 65-129 65-115 118-191 56-81 53-65 183-194 80-80 432-382" stroke="hsl(32.1,100%,50%)"/>
<path d="M1059 7796l455 393 80 80 163 175 34 39 36 45 75 110 123 199 66 118 44 89 33 76 33 85 199 568 76 193 112 279 75 197 65 187 134 449 54 170 74 214 125 337 55 154 32 82 59 130 65 128 64 111 91 142 51 67 53 57 59 53 60 46 60-46 59-53 53-57 51-67 91-142 64-111 65-128 59-130 32-82 55-154 125-337 74-214 54-170 134-449 65-187 75-197 112-279 76-193 199-568 33-85 33-76 44-89 66-118 123-199 75-110 36-45 34-39 163-175 80-80 455-393" stroke="hsl(40.1,100%,50%)"/>
<path d="M1059 7823l22 2 23 4 18 10 406 343 48 45 40 41 162 176 50 60 38 51 57 83 80 126 67 110 44 81 45 89 32 75 33 84 33 92 130 387 33 91 74 193 112 280 74 197 64 186 134 449 53 170 50 144 148 407 54 154 32 82 57 130 65 128 63 111 89 142 43 58 50 56 56 55 66 54 66-54 56-55 50-56 43-58 89-142 63-111 65-128 57-130 32-82 54-154 148-407 50-144 53-170 134-449 64-186 74-197 112-280 74-193 33-91 130-387 33-92 33-84 32-75 45-89 44-81 67-110 80-126 57-83 38-51 50-60 162-176 40-41 48-45 406-343 18-10 23-4 22-2" stroke="hsl(48.2,100%,50%)"/>
<path d="M1059 7812l52 17 42 26 397 326 68 66 180 198 49 59 39 51 58 84 81 125 67 110 45 80 45 90 32 74 33 84 32 91 129 389 32 91 73 193 110 281 73 196 63 187 134 447 54 171 49 144 146 407 53 154 32 82 57 130 64 128 62 111 88 142 41 58 48 56 54 55 63 54 63-54 54-55 48-56 41-58 88-142 62-111 64-128 57-130 32-82 53-154 146-407 49-144 54-171 134-447 63-187 73-196 110-281 73-193 32-91 129-389 32-91 33-84 32-74 45-90 45-80 67-110 81-125 58-84 39-51 49-59 180-198 68-66 397-326 42-26 52-17" stroke="hsl(56.2,100%,50%)"/>
<path d="M1059 7809l74 26 20 10 20 14 400 322 29 26 39 40 178 198 48 59 39 51 58 84 81 125 67 109 45 81 45 90 32 74 32 84 32 91 126 389 32 91 73 194 109 281 72 196 63 186 135 447 54 171 48 143 144 408 53 154 32 82 56 130 63 128 61 111 86 142 40 58 47 56 53 55 59 54 59-54 53-55 47-56 40-58 86-142 61-111 63-128 56-130 32-82 53-154 144-408 48-143 54-171 135-447 63-186 72-196 109-281 73-194 32-91 126-389 32-91 32-84 32-74 45-90 45-81 67-109 81-125 58-84 39-51 48-59 178-198 39-40 29-26 400-322 20-14 20-10 74-26" stroke="hsl(64.2,100%,50%)"/>
<path d="M1059 7810l93 30 26 13 26 16 393 312 49 45 57 63 121 137 47 58 35 45 57 82 58 87 86 138 68 117 45 91 31 73 31 84 31 91 125 390 31 91 73 195 109 281 72 195 36 104 54 168 108 360 54 172 48 143 194 562 32 82 55 130 63 128 60 111 85 142 39 58 46 56 58 63 49 46 49-46 58-63 46-56 39-58 85-142 60-111 63-128 55-130 32-82 194-562 48-143 54-172 108-360 54-168 36-104 72-195 109-281 73-195 31-91 125-390 31-91 31-84 31-73 45-91 68-117 86-138 58-87 57-82 35-45 47-58 121-137 57-63 49-45 393-312 26-16 26-13 93-30" stroke="hsl(72.3,100%,50%)"/>
<path d="M1059 7811l119 37 21 10 22 13 38 27 362 282 49 46 56 62 103 120 46 56 50 65 57 82 57 87 108 175 45 80 45 91 31 73 30 84 31 91 123 391 31 90 72 196 145 376 72 203 54 168 108 359 54 173 240 705 31 82 55 130 61 128 50 93 93 160 32 48 43 56 57 64 54 55 54-55 57-64 43-56 32-48 93-160 50-93 61-128 55-130 31-82 240-705 54-173 108-359 54-168 72-203 145-376 72-196 31-90 123-391 31-91 30-84 31-73 45-91 45-80 108-175 57-87 57-82 50-65 46-56 103-120 56-62 49-46 362-282 38-27 22-13 21-10 119-37" stroke="hsl(80.3,100%,50%)"/>
<path d="M1059 7812l141 43 28 12 28 17 383 292 36 31 56 59 105 124 60 74 48 66 56 81 57 87 108 175 45 80 44 91 31 73 30 83 30 92 121 391 30 90 72 197 144 376 72 202 55 168 163 532 236 705 31 82 54 129 61 129 49 93 91 160 32 48 41 56 56 64 51 55 51-55 56-64 41-56 32-48 91-160 49-93 61-129 54-129 31-82 236-705 163-532 55-168 72-202 144-376 72-197 30-90 121-391 30-92 30-83 31-73 44-91 45-80 108-175 57-87 56-81 48-66 60-74 105-124 56-59 36-31 383-292 28-17 28-12 141-43" stroke="hsl(88.3,100%,50%)"/>
<path d="M1059 7813l153 46 35 12 24 12 53 37 341 255 37 32 56 59 106 123 60 75 48 66 56 81 57 87 85 138 66 117 44 91 31 73 30 84 31 91 122 390 31 91 69 195 140 379 70 201 54 169 164 531 233 705 30 82 54 129 59 129 48 93 88 160 30 48 40 56 100 119 100-119 40-56 30-48 88-160 48-93 59-129 54-129 30-82 233-705 164-531 54-169 70-201 140-379 69-195 31-91 122-390 31-91 30-84 31-73 44-91 66-117 85-138 57-87 56-81 48-66 60-75 106-123 56-59 37-32 341-255 53-37 24-12 35-12 153-46" stroke="hsl(96.3,100%,50%)"/>
<path d="M1059 7813l196 59 25 10 24 13 31 20 356 260 38 32 58 59 92 106 60 73 45 59 56 79 56 85 82 132 65 113 44 84 22 47 31 74 62 173 155 482 201 575 68 200 54 171 163 529 230 705 30 82 52 129 58 129 47 93 85 160 29 48 30 46 100 129 100-129 30-46 29-48 85-160 47-93 58-129 52-129 30-82 230-705 163-529 54-171 68-200 201-575 155-482 62-173 31-74 22-47 44-84 65-113 82-132 56-85 56-79 45-59 60-73 92-106 58-59 38-32 356-260 31-20 24-13 25-10 196-59" stroke="hsl(104.4,100%,50%)"/>
<path d="M1059 7814l211 63 38 14 26 12 57 40 326 232 39 32 59 59 79 88 60 72 60 78 76 107 56 87 83 138 43 77 43 85 54 121 63 172 126 387 257 770 87 273 163 527 227 704 29 83 51 129 56 129 45 93 49 93 33 67 27 48 30 46 92 129 92-129 30-46 27-48 33-67 49-93 45-93 56-129 51-129 29-83 227-704 163-527 87-273 257-770 126-387 63-172 54-121 43-85 43-77 83-138 56-87 76-107 60-78 60-72 79-88 59-59 39-32 326-232 57-40 26-12 38-14 211-63" stroke="hsl(112.4,100%,50%)"/>
<path d="M1059 7815l219 64 47 15 26 12 60 38 339 235 34 27 60 59 80 89 61 72 60 78 75 106 56 88 62 101 64 115 42 84 53 121 64 172 65 189 188 577 182 578 190 613 224 704 29 82 49 129 46 110 44 95 87 178 47 84 92 139 92-139 47-84 87-178 44-95 46-110 49-129 29-82 224-704 190-613 182-578 188-577 65-189 64-172 53-121 42-84 64-115 62-101 56-88 75-106 60-78 61-72 80-89 60-59 34-27 339-235 60-38 26-12 47-15 219-64" stroke="hsl(120.4,100%,50%)"/>
<path d="M1059 7816l270 78 28 10 34 16 35 20 346 235 42 31 62 59 83 89 45 53 61 77 71 99 57 84 59 96 62 111 63 124 53 122 64 171 64 189 187 577 233 753 351 1142 28 82 48 129 44 110 42 95 53 111 30 67 45 84 85 139 85-139 45-84 30-67 53-111 42-95 44-110 48-129 28-82 351-1142 233-753 187-577 64-189 64-171 53-122 63-124 62-111 59-96 57-84 71-99 61-77 45-53 83-89 62-59 42-31 346-235 35-20 34-16 28-10 270-78" stroke="hsl(128.5,100%,50%)"/>
<path d="M1059 7818l297 84 43 15 29 12 65 39 311 206 44 33 65 58 64 66 53 57 60 76 69 91 57 83 57 90 61 107 61 120 40 89 32 76 31 84 62 182 281 866 147 467 160 529 201 705 38 116 34 95 51 128 112 254 38 75 48 85 34 63 34-63 48-85 38-75 112-254 51-128 34-95 38-116 201-705 160-529 147-467 281-866 62-182 31-84 32-76 40-89 61-120 61-107 57-90 57-83 69-91 60-76 53-57 64-66 65-58 44-33 311-206 65-39 29-12 43-15 297-84" stroke="hsl(136.5,100%,50%)"/>
<path d="M1059 7819l347 98 30 10 23 9 60 33 340 220 45 36 66 61 67 68 61 71 79 104 76 108 57 91 39 70 39 76 58 125 52 123 31 85 64 183 321 955 64 203 75 254 163 582 153 569 47 148 71 191 110 263 27 57 50 94 30 63 30-63 50-94 27-57 110-263 71-191 47-148 153-569 163-582 75-254 64-203 321-955 64-183 31-85 52-123 58-125 39-76 39-70 57-91 76-108 79-104 61-71 67-68 66-61 45-36 340-220 60-33 23-9 30-10 347-98" stroke="hsl(144.5,100%,50%)"/>
<path d="M1059 7821l378 104 70 26 40 21 346 217 45 36 68 60 68 69 44 52 75 98 74 105 56 87 37 66 37 74 56 122 71 168 34 86 101 275 267 750 66 202 56 188 45 171 112 450 184 705 24 82 53 159 65 173 83 208 63 131 27 63 27-63 63-131 83-208 65-173 53-159 24-82 184-705 112-450 45-171 56-188 66-202 267-750 101-275 34-86 71-168 56-122 37-74 37-66 56-87 74-105 75-98 44-52 68-69 68-60 45-36 346-217 40-21 70-26 378-104" stroke="hsl(152.5,100%,50%)"/>
<path d="M1059 7825l394 105 82 25 24 12 58 32 311 190 46 35 68 61 46 45 52 57 58 76 84 118 54 85 36 62 36 70 53 120 89 211 71 177 72 183 243 643 68 194 34 107 35 115 19 75 40 171 60 278 40 176 190 752 51 163 58 167 87 235 62 141 24 63 24-63 62-141 87-235 58-167 51-163 190-752 40-176 60-278 40-171 19-75 35-115 34-107 68-194 243-643 72-183 71-177 89-211 53-120 36-70 36-62 54-85 84-118 58-76 52-57 46-45 68-61 46-35 311-190 58-32 24-12 82-25 394-105" stroke="hsl(160.6,100%,50%)"/>
<path d="M1059 7829l418 107 86 25 34 15 42 22 325 191 46 35 68 60 46 46 52 57 57 76 82 118 52 84 35 63 51 110 273 653 253 631 35 93 36 100 35 111 35 122 17 71 35 171 52 285 34 173 51 215 133 537 38 132 58 179 60 168 28 86 57 141 21 63 21-63 57-141 28-86 60-168 58-179 38-132 133-537 51-215 34-173 52-285 35-171 17-71 35-122 35-111 36-100 35-93 253-631 273-653 51-110 35-63 52-84 82-118 57-76 52-57 46-46 68-60 46-35 325-191 42-22 34-15 86-25 418-107" stroke="hsl(168.6,100%,50%)"/>
<path d="M1059 7833l488 121 53 17 44 18 27 14 328 186 48 35 72 60 48 46 53 57 59 76 82 118 53 84 36 63 51 110 85 206 152 354 76 182 211 538 34 94 33 101 34 111 34 124 16 70 33 171 49 287 32 172 49 216 122 512 42 155 47 161 60 187 26 86 50 141 18 63 18-63 50-141 26-86 60-187 47-161 42-155 122-512 49-216 32-172 49-287 33-171 16-70 34-124 34-111 33-101 34-94 211-538 76-182 152-354 85-206 51-110 36-63 53-84 82-118 59-76 53-57 48-46 72-60 48-35 328-186 27-14 44-18 53-17 488-121" stroke="hsl(176.6,100%,50%)"/>
<path d="M1059 7840l508 119 83 25 28 11 28 14 333 180 75 53 51 42 50 45 55 58 60 76 83 117 53 85 36 63 51 110 85 206 191 441 77 188 133 354 64 183 32 103 32 112 32 123 15 71 31 171 47 286 31 172 47 217 118 511 38 154 37 142 60 207 23 86 40 131 18 73 18-73 40-131 23-86 60-207 37-142 38-154 118-511 47-217 31-172 47-286 31-171 15-71 32-123 32-112 32-103 64-183 133-354 77-188 191-441 85-206 51-110 36-63 53-85 83-117 60-76 55-58 50-45 51-42 75-53 333-180 28-14 28-11 83-25 508-119" stroke="hsl(184.7,100%,50%)"/>
<path d="M1059 7850l540 118 87 23 38 15 58 29 299 154 79 53 53 41 53 46 57 57 61 76 65 92 53 81 53 93 34 71 101 245 192 438 77 188 69 185 60 169 59 185 30 104 30 112 30 123 15 71 30 172 60 376 44 229 177 796 92 373 34 130 15 74 15-74 34-130 92-373 177-796 44-229 60-376 30-172 15-71 30-123 30-112 30-104 59-185 60-169 69-185 77-188 192-438 101-245 34-71 53-93 53-81 65-92 61-76 57-57 53-46 53-41 79-53 299-154 58-29 38-15 87-23 540-118" stroke="hsl(192.7,100%,50%)"/>
<path d="M1059 7860l563 115 101 24 40 15 60 28 302 147 83 53 55 41 55 46 60 57 63 76 67 91 53 82 53 93 51 109 85 207 150 346 75 182 37 97 66 185 57 168 56 186 29 104 28 112 28 124 14 71 28 172 56 376 43 229 85 403 92 454 98 442 12 74 12-74 98-442 92-454 85-403 43-229 56-376 28-172 14-71 28-124 28-112 29-104 56-186 57-168 66-185 37-97 75-182 150-346 85-207 51-109 53-93 53-82 67-91 63-76 60-57 55-46 55-41 83-53 302-147 60-28 40-15 101-24 563-115" stroke="hsl(200.7,100%,50%)"/>
<path d="M1059 7870l586 112 105 23 42 13 63 26 314 145 86 53 58 41 87 71 50 50 68 78 52 70 53 82 54 94 34 70 34 79 67 167 145 343 72 183 72 203 80 248 54 185 27 104 27 113 27 125 13 70 91 630 39 217 95 484 55 304 83 432 12 84 12-84 83-432 55-304 95-484 39-217 91-630 13-70 27-125 27-113 27-104 54-185 80-248 72-203 72-183 145-343 67-167 34-79 34-70 54-94 53-82 52-70 68-78 50-50 87-71 58-41 86-53 314-145 63-26 42-13 105-23 586-112" stroke="hsl(208.7,100%,50%)"/>
<path d="M1059 7882l691 124 88 20 33 9 33 13 307 136 71 39 89 60 89 71 52 49 68 79 53 70 54 82 54 94 34 70 33 78 206 509 69 184 69 204 76 246 51 185 25 104 26 114 25 126 12 70 84 630 37 217 97 535 39 253 70 432 10 84 10-84 70-432 39-253 97-535 37-217 84-630 12-70 25-126 26-114 25-104 51-185 76-246 69-204 69-184 206-509 33-78 34-70 54-94 54-82 53-70 68-79 52-49 89-71 89-60 71-39 307-136 33-13 33-9 88-20 691-124" stroke="hsl(216.8,100%,50%)"/>
<path d="M1059 7895l735 124 115 22 46 13 58 21 253 109 72 39 92 60 92 71 52 49 69 79 54 70 54 81 55 95 33 69 50 120 149 379 66 177 33 94 66 206 72 244 48 185 24 104 24 115 23 127 11 69 78 631 34 218 89 534 89 675 9 94 9-94 89-675 89-534 34-218 78-631 11-69 23-127 24-115 24-104 48-185 72-244 66-206 33-94 66-177 149-379 50-120 33-69 55-95 54-81 54-70 69-79 52-49 92-71 92-60 72-39 253-109 58-21 46-13 115-22 735-124" stroke="hsl(224.8,100%,50%)"/>
<path d="M1059 7908l857 136 60 12 49 11 48 15 253 102 115 57 68 40 69 47 34 26 35 31 52 55 71 87 53 77 54 91 33 66 48 113 123 335 90 263 61 195 74 266 44 173 44 200 22 115 32 196 70 631 107 752 72 674 7 95 7-95 72-674 107-752 70-631 32-196 22-115 44-200 44-173 74-266 61-195 90-263 123-335 48-113 33-66 54-91 53-77 71-87 52-55 35-31 34-26 69-47 68-40 115-57 253-102 48-15 49-11 60-12 857-136" stroke="hsl(232.8,100%,50%)"/>
<path d="M1059 7921l898 135 114 19 38 9 50 16 215 79 140 62 76 39 76 47 56 41 52 52 71 84 52 72 53 86 49 98 45 113 86 252 82 255 54 187 28 100 67 266 40 173 40 200 20 114 29 196 18 168 45 464 87 723 43 508 17 205 4 85 4-85 17-205 43-508 87-723 45-464 18-168 29-196 20-114 40-200 40-173 67-266 28-100 54-187 82-255 86-252 45-113 49-98 53-86 52-72 71-84 52-52 56-41 76-47 76-39 140-62 215-79 50-16 38-9 114-19 898-135" stroke="hsl(240.9,100%,50%)"/>
<path d="M1059 7934l1069 153 66 14 66 19 171 59 153 62 84 39 84 46 60 42 54 50 37 41 36 45 50 71 51 86 47 99 42 111 81 252 73 254 73 290 60 267 36 172 36 199 36 243 16 146 49 554 69 722 32 509 11 205 3 85 3-85 11-205 32-509 69-722 49-554 16-146 36-243 36-199 36-172 60-267 73-290 73-254 81-252 42-111 47-99 51-86 50-71 36-45 37-41 54-50 60-42 84-46 84-39 153-62 171-59 66-19 66-14 1069-153" stroke="hsl(248.9,100%,50%)"/>
<path d="M1059 7947l1127 152 69 12 55 12 151 48 146 52 92 36 91 42 46 25 46 28 18 13 38 32 56 59 53 67 48 76 31 60 32 67 39 103 27 81 39 132 65 242 66 278 44 209 63 331 32 200 31 244 14 143 95 1249 6 113 16 416 9 300 9-300 16-416 6-113 95-1249 14-143 31-244 32-200 63-331 44-209 66-278 65-242 39-132 27-81 39-103 32-67 31-60 48-76 53-67 56-59 38-32 18-13 46-28 46-25 91-42 92-36 146-52 151-48 55-12 69-12 1127-152" stroke="hsl(256.9,100%,50%)"/>
<path d="M1059 7957l1186 153 71 12 42 9 142 40 206 69 100 37 50 23 49 25 50 29 19 13 37 31 56 59 52 68 46 75 30 60 30 68 37 103 49 168 75 283 42 176 42 202 47 265 39 271 26 223 19 195 17 248 28 451 37 687 21 769 21-769 37-687 28-451 17-248 19-195 26-223 39-271 47-265 42-202 42-176 75-283 49-168 37-103 30-68 30-60 46-75 52-68 56-59 37-31 19-13 50-29 49-25 50-23 100-37 206-69 142-40 42-9 71-12 1186-153" stroke="hsl(264.9,100%,50%)"/>
<path d="M1059 7966l1229 152 102 18 144 36 222 67 109 37 55 22 55 26 54 30 37 26 19 17 37 38 56 69 43 68 28 56 29 65 26 66 11 34 34 120 95 363 40 171 40 205 30 189 21 159 30 301 21 247 13 219 14 276 15 330 21 595 15 801 15-801 21-595 15-330 14-276 13-219 21-247 30-301 21-159 30-189 40-205 40-171 95-363 34-120 11-34 26-66 29-65 28-56 43-68 56-69 37-38 19-17 37-26 54-30 55-26 55-22 109-37 222-67 144-36 102-18 1229-152" stroke="hsl(273.0,100%,50%)"/>
<path d="M1059 7971l1224 148 132 21 162 38 225 60 121 37 60 22 60 26 60 31 37 26 19 16 37 38 56 70 27 42 27 52 27 61 27 69 21 65 140 551 19 85 19 98 19 113 19 133 15 133 15 177 22 336 17 334 11 266 8 281 12 668 7 801 7-801 12-668 8-281 11-266 17-334 22-336 15-177 15-133 19-133 19-113 19-98 19-85 140-551 21-65 27-69 27-61 27-52 27-42 56-70 37-38 19-16 37-26 60-31 60-26 60-22 121-37 225-60 162-38 132-21 1224-148" stroke="hsl(281.0,100%,50%)"/>
<path d="M1059 7984l288 26 447 49 235 30 235 27 138 19 82 14 41 9 121 31 206 45 147 39 58 19 59 25 37 22 37 31 36 38 53 64 30 48 47 90 31 73 12 34 36 128 88 354 20 87 20 101 20 115 13 91 20 183 7 111 19 379 11 172 33 409 8 79 10 77 10-77 8-79 33-409 11-172 19-379 7-111 20-183 13-91 20-115 20-101 20-87 88-354 36-128 12-34 31-73 47-90 30-48 53-64 36-38 37-31 37-22 59-25 58-19 147-39 206-45 121-31 41-9 82-14 138-19 235-27 235-30 447-49 288-26" stroke="hsl(285.0,100%,50%)"/>
<path d="M1059 7993l288 26 480 50 437 50 132 16 103 16 176 38 177 27 58 11 59 13 59 16 59 20 59 26 40 26 40 36 61 69 50 68 44 80 44 102 23 71 22 89 78 342 33 172 18 125 13 100 19 194 12 227 10 115 35 340 16 111 16-111 35-340 10-115 12-227 19-194 13-100 18-125 33-172 78-342 22-89 23-71 44-102 44-80 50-68 61-69 40-36 40-26 59-26 59-20 59-16 59-13 58-11 177-27 176-38 103-16 132-16 437-50 480-50 288-26" stroke="hsl(289.0,100%,50%)"/>
<path d="M1059 8007l378 31 393 37 404 44 280 35 200 35 167 26 110 23 66 19 67 24 66 31 44 27 36 29 37 38 37 45 50 73 25 48 26 56 39 100 19 62 30 112 30 141 11 69 33 245 42 214 44 252 11 50 11-50 44-252 42-214 33-245 11-69 30-141 30-112 19-62 39-100 26-56 25-48 50-73 37-45 37-38 36-29 44-27 66-31 67-24 66-19 110-23 167-26 200-35 280-35 404-44 393-37 378-31" stroke="hsl(293.0,100%,50%)"/>
<path d="M1059 8017l378 31 430 39 419 42 242 28 218 32 221 29 149 25 88 20 52 16 44 16 44 22 44 28 22 17 15 14 14 17 15 21 30 52 29 63 23 56 16 52 16 62 34 149 29 157 44 279 17 80 12 45 12-45 17-80 44-279 29-157 34-149 16-62 16-52 23-56 29-63 30-52 15-21 14-17 15-14 22-17 44-28 44-22 44-16 52-16 88-20 149-25 221-29 218-32 242-28 419-42 430-39 378-31" stroke="hsl(297.0,100%,50%)"/>
<path d="M1059 8049l1256 95 319 29 144 16 94 13 387 58 92 16 66 16 78 24 71 30 74 40 64 41 64-41 74-40 71-30 78-24 66-16 92-16 387-58 94-13 144-16 319-29 1256-95" stroke="hsl(304.0,100%,50%)"/>
<path d="M1059 8152l698 44 441 22 624 22 882 23 882-23 624-22 441-22 698-44" stroke="hsl(316.0,100%,50%)"/>
</g></g>
<g clip-path="url(#cd)"><g transform="scale(0.1)" fill="none" stroke-width="26" stroke-linejoin="round">
<path d="M11892 13288l32-134 10-60 11-42 5-13 10-53 32-131 15-79 21-82 11-53 26-96 5-28 5-11 11-58 5-12 31-140 21-77 16-69 15-51 21-99 37-146 36-159 5-16 11-57 10-39 32-153 20-89 6-13 15-64 26-114 6-11 5-28 16-56 5-31 5-13 26-118 21-80 16-76 36-149 5-13 11-37 36-170 6-16 5-30 5-15 21-95 10-30 26-102 16-74 31-115 6-28 15-59 16-75 21-83 15-79 21-73 5-29 27-101 5-31 26-95 63-284 15-65 5-9 16-62 57-247 6-12 5-35 10-45 68-268 37-163" stroke="hsl(0.0,100%,50%)"/>
<path d="M11851 13305l38-180 5-18 6-33 27-109 5-33 32-137 43-200 17-63 16-50 5-28 6-16 16-68 27-96 21-92 22-114 21-91 11-40 6-13 10-48 17-57 21-93 6-30 5-15 27-130 48-195 6-29 5-4 11-55 16-58 27-123 22-80 27-112 5-12 16-61 6-11 5-35 5-11 11-45 38-177 21-77 6-37 5-16 11-46 43-194 11-33 5-28 33-117 16-79 16-67 16-53 11-46 11-36 11-46 16-85 16-65 21-72 38-176 11-41 5-29 6-17 5-33 16-68 6-8 16-59 5-10 6-31 27-107 10-51 11-38 33-147 5-31 27-112 5-12 6-28 21-77 6-29 10-34 6-32 32-126 22-105 27-99" stroke="hsl(8.0,100%,50%)"/>
<path d="M11810 13276l61-274 33-123 34-151 28-103 44-198 6-12 22-86 5-37 6-17 33-150 6-17 17-73 5-7 22-93 28-102 17-89 22-94 23-85 5-10 6-29 11-39 28-122 5-14 6-32 22-79 11-50 11-39 45-197 11-31 50-199 11-59 17-61 17-72 11-37 16-93 6-16 17-77 33-121 6-27 5-13 17-64 22-91 6-36 16-66 11-35 17-77 22-71 17-70 6-12 5-21 67-311 6-34 5-18 11-53 17-63 33-108 34-155 11-38 5-32 12-47 44-161 6-28 16-58 11-48 12-35 5-29 22-86 50-235 12-40 5-13 6-25 5-14 28-109 6-30" stroke="hsl(16.1,100%,50%)"/>
<path d="M11768 13285l23-101 23-115 18-64 5-29 29-111 34-143 12-38 11-60 29-107 17-55 17-75 12-37 69-313 6-12 17-78 34-129 17-77 6-17 6-32 46-177 5-31 6-11 52-224 23-74 17-69 17-78 23-88 40-169 6-14 6-26 6-8 5-36 6-17 12-54 22-85 12-50 11-36 46-167 12-58 17-69 6-46 5-15 18-77 51-189 12-55 6-18 5-33 40-154 52-232 23-82 6-11 6-26 11-33 40-172 6-17 23-95 6-16 5-34 23-98 6-34 11-38 18-72 5-13 18-64 23-101 40-152 11-57 29-115 11-30 6-36 17-61 12-48 11-31 6-33 17-70 12-56" stroke="hsl(24.1,100%,50%)"/>
<path d="M11720 13287l12-49 12-61 24-95 24-121 11-46 12-62 18-73 18-60 30-122 6-12 23-104 18-68 6-35 6-16 6-30 36-135 17-60 12-52 6-13 6-32 24-99 18-65 29-98 48-209 6-32 36-129 5-30 36-136 12-54 6-17 6-28 47-174 54-231 18-62 47-192 6-13 18-77 6-11 30-127 5-13 24-99 12-39 48-203 6-12 6-31 11-34 12-46 12-58 18-75 6-34 18-64 6-31 17-68 6-31 24-85 6-30 12-45 6-34 12-37 24-102 5-20 6-11 36-141 18-79 30-111 23-107 12-31 30-113 6-13 6-33 6-18 6-35 12-44 11-60 48-200 24-92 29-100 6-30 30-113 6-29 24-80" stroke="hsl(32.1,100%,50%)"/>
<path d="M11653 13281l50-223 18-75 7-16 43-193 37-133 38-168 62-251 6-17 19-77 12-40 13-60 6-13 31-123 12-34 7-35 12-37 19-75 6-16 68-285 13-39 31-124 12-42 7-30 25-82 62-266 18-62 13-32 6-24 13-36 24-107 13-40 19-82 18-70 31-136 6-35 7-14 12-54 6-15 31-105 19-82 13-42 6-32 6-17 19-73 6-18 62-272 25-83 12-53 7-12 18-76 7-35 24-96 56-208 7-16 25-103 12-59 44-164 6-16 6-28 6-16 19-75 12-41 50-205 6-15 50-219 19-70 18-54 7-27 6-13 6-32 12-39 13-55 19-60 31-139" stroke="hsl(40.1,100%,50%)"/>
<path d="M11585 13269l59-258 6-20 39-168 59-213 7-37 26-88 6-32 7-17 19-77 13-43 20-90 32-121 13-57 7-12 19-90 20-64 6-30 7-14 6-21 26-106 7-16 71-279 39-139 13-65 20-68 32-131 13-37 20-71 6-10 7-35 6-14 33-133 6-35 7-20 39-153 13-41 13-61 13-38 26-111 19-63 7-41 6-14 7-31 13-44 19-79 7-13 32-130 7-18 19-79 13-41 13-58 20-52 71-295 26-85 7-34 6-16 20-85 13-38 6-33 7-13 6-21 26-96 14-58 32-113 13-60 13-43 33-136 65-231 19-86 13-47 7-37 6-16 13-47 13-34 7-10 6-25 7-2 6-21 7-2 6-17 7 2 6-5 7-12 6-5 7-9 6-12 7-1 26 3 13 2 6 4 7-6 6 2 13-6 7 3" stroke="hsl(48.2,100%,50%)"/>
<path d="M11518 13273l41-176 20-107 7-22 20-93 21-67 40-162 27-95 7-33 7-10 27-105 48-168 40-159 14-41 13-59 7-19 27-104 34-143 7-35 20-69 21-59 7-15 40-156 14-61 27-90 14-53 6-18 7-32 7-18 27-107 14-37 6-28 7-13 7-23 7-33 20-74 7-34 7-19 27-112 34-127 13-43 28-112 6-20 21-76 6-19 82-318 27-100 20-64 7-30 7-15 7-24 47-184 34-113 48-196 27-100 41-134 6-31 7-12 7-33 7-14 6-29 7-19 27-123 41-145 27-87 14-59 13-44 21-81 27-79 7-14 6-29 21-56 20-70 75-164 7-9 6-5 14-29 13-6 7-7 7 2 7-24 7 0 13-27 7 0 7-11 20-17 14-25" stroke="hsl(56.2,100%,50%)"/>
<path d="M11448 13258l21-87 15-68 21-81 7-35 21-77 57-243 35-127 28-111 15-42 7-34 7-17 7-32 7-17 14-51 7-14 14-54 14-42 15-59 7-20 21-87 14-49 7-34 21-65 50-187 7-17 7-37 7-14 21-69 50-203 71-235 56-224 7-18 7-28 22-66 28-104 42-178 43-149 7-20 21-79 14-37 15-45 35-142 35-123 7-35 36-130 14-39 49-178 8-34 7-21 7-36 14-49 7-17 7-31 21-63 57-215 14-42 7-33 7-16 64-267 28-94 7-16 7-28 22-59 7-29 7-15 14-48 7-18 7-29 28-94 7-15 15-42 35-85 7-12 7-21 7-12 21-61 22-35 14-28 7-3 7-17 7-7 7-15 7-8 14-23 36-45 7-7 7-4 14-29 7-7 7-12 14-33 22-34 7 2" stroke="hsl(64.2,100%,50%)"/>
<path d="M11376 13271l8-39 14-57 45-208 22-84 7-42 8-20 22-95 59-220 29-95 8-18 29-116 7-18 23-91 14-52 8-19 7-35 22-69 22-92 15-43 22-84 8-15 51-165 67-250 44-153 15-62 15-49 7-34 44-167 15-46 7-30 45-135 7-32 22-75 37-153 44-139 15-57 66-224 8-36 15-47 14-69 22-86 8-20 15-62 7-16 7-32 30-92 15-40 22-79 22-65 15-61 14-41 23-98 7-23 7-36 22-84 15-42 15-61 37-124 74-273 29-87 37-94 22-65 8-12 22-64 7-14 15-39 22-41 7-17 8-10 14-29 8-5 15-26 14-15 8-19 7-9 7-17 8-9 7-17 8-4 7-15 22-31 8-2 7-8 7-3 15-25 15-13 7-21 15-31 29-36 8-3 7-12 8-3 7-17 7-8 8-15" stroke="hsl(72.3,100%,50%)"/>
<path d="M11304 13254l31-137 23-91 15-78 8-20 15-68 16-53 7-38 39-146 8-23 53-195 8-16 8-23 23-86 23-69 61-223 16-47 69-261 30-92 8-32 8-21 15-59 31-101 8-36 30-115 31-105 15-42 146-513 23-90 8-20 15-52 8-33 61-201 8-37 15-42 8-36 46-147 8-33 8-16 15-63 8-17 23-93 53-176 46-168 8-22 16-65 23-84 7-39 8-23 23-86 15-45 16-59 7-17 16-61 7-19 23-92 46-151 16-36 23-64 54-166 61-119 8-10 23-40 15-17 8-15 8-6 7-16 8-3 23-40 8-1 7-17 8-9 8-18 15-22 15-20 8-4 8-14 38-51 8-22 7-3 24-38 7-4 16-29 7-10 8-6 15-34 23-38 16-18 7-1 16-12" stroke="hsl(80.3,100%,50%)"/>
<path d="M11232 13255l8-46 16-65 8-25 8-49 16-62 8-41 16-60 24-106 48-183 56-159 48-183 24-82 32-97 16-57 63-249 56-167 16-57 8-20 16-58 16-47 88-318 16-44 32-107 40-159 32-105 16-66 8-21 24-93 47-159 16-44 16-59 8-17 8-26 8-34 8-21 24-88 16-64 8-20 32-113 8-41 8-19 8-40 24-59 40-127 8-34 8-19 32-123 32-102 24-87 8-38 16-55 7-21 8-42 24-67 16-60 8-17 16-52 8-21 24-84 24-102 16-53 8-15 24-61 8-9 8-22 24-44 16-35 8-13 32-74 16-45 8-13 16-38 16-25 8-7 8-16 8 0 48-75 8-5 7-15 32-31 16-24 8-1 24-28 8-17 8-6 16-30 16-22 16-34 8-6 16-31 8-3 8-9 8-19 8-10 8-6 8-11 8-4 8-14 8-3 24-26 8-15 16-21 8-7 16-22 8-15" stroke="hsl(88.3,100%,50%)"/>
<path d="M11151 13246l117-502 8-21 33-112 50-146 25-85 25-97 34-113 8-33 8-12 25-86 42-131 16-65 9-22 41-135 9-41 25-89 25-104 8-25 8-34 50-152 67-223 25-76 8-33 17-48 41-139 25-90 8-20 9-36 16-54 17-65 42-131 8-17 25-78 25-90 8-36 92-316 16-54 34-88 33-119 42-133 58-210 16-52 9-38 16-57 34-106 16-44 17-58 25-70 16-57 75-188 9-11 25-46 8-20 25-50 25-43 17-20 16-26 8-6 25-34 25-46 9-11 16-29 17-17 17-9 8-16 33-15 9-11 8-7 8-15 8-9 9-17 25-28 25-46 8-9 8-22 9-14 8-4 17-26 33-34 17-24 8-9 8-15 17-18 16-32 9-8 8-14 8-5 9-14 8-23 8-14 9-6" stroke="hsl(96.3,100%,50%)"/>
<path d="M11068 13252l35-140 69-306 35-134 17-45 9-38 17-49 17-59 9-17 17-56 9-34 17-48 9-33 35-105 8-41 9-20 17-71 26-89 18-55 8-18 18-53 17-65 17-53 61-207 26-72 35-112 8-40 18-55 8-35 26-84 18-40 8-34 9-21 26-92 9-24 26-96 9-21 17-62 43-132 18-57 26-97 34-107 9-33 26-74 17-70 18-53 17-69 61-189 8-16 44-162 26-86 26-79 8-21 18-61 8-23 18-70 17-52 26-90 9-23 26-95 8-22 18-62 8-21 18-55 8-18 35-95 17-34 9-32 9-21 8-11 9-18 17-49 9-12 9-25 17-37 9-7 8-22 9-8 26-40 9-4 17-28 17-21 18-30 8-9 18-33 8-4 9-13 9-7 26-44 8-5 18-33 17-16 9-17 17-18 26-19 9-21 8-3 26-32 9-19 9-8 17-32 9-5 8-14 44-44 8-18 18-16 8-17 18-20 8-17 9-4 9-13 8-22 9-10 17-33 35-52 17-14 26-40 18-14" stroke="hsl(104.4,100%,50%)"/>
<path d="M10985 13247l27-125 9-32 9-49 36-133 36-155 27-92 9-23 9-36 27-88 9-20 27-85 9-14 18-64 36-103 9-37 72-225 18-62 18-47 18-64 19-51 18-67 36-116 9-35 18-51 27-96 63-185 63-209 9-23 9-40 54-165 18-67 27-84 36-126 36-116 9-38 9-20 36-99 27-90 9-24 28-102 18-58 9-19 9-37 18-43 9-35 18-50 36-121 18-55 18-66 18-52 18-66 18-50 9-36 18-57 27-77 18-63 18-55 9-24 18-40 9-30 9-16 9-32 36-96 18-34 9-23 18-19 9-13 18-35 36-59 27-55 10-10 9-15 27-37 9-20 18-12 9-14 9-8 18-21 36-48 27-51 9-11 9-4 18-32 9-3 9-15 18-10 9-16 9-4 9-12 9-7 9-16 9-23 18-20 9-17 9-5 9-16 9-6 9-18 18-21 9-21 18-18 9-12 18-16 9-6 18-40 9-4 9-8 18-36 9-6 9-20 9-1 9-14 10-2 18-15 36-71 36-57 18-19" stroke="hsl(112.4,100%,50%)"/>
<path d="M10901 13254l19-72 28-120 10-32 46-197 38-145 47-134 9-33 19-46 28-92 19-70 18-54 38-129 37-108 10-36 18-48 19-61 19-51 19-67 9-18 9-29 10-21 18-70 19-52 28-97 10-39 65-196 19-66 9-21 10-34 9-22 28-88 9-37 19-54 9-33 10-24 9-40 10-15 9-26 37-109 19-65 10-20 9-36 28-83 9-37 19-54 9-36 10-25 19-66 9-26 9-39 10-23 18-63 10-21 9-36 19-52 47-161 9-21 37-114 10-16 9-33 19-49 56-195 9-39 47-128 19-63 38-110 18-47 19-36 9-27 19-36 9-22 10-15 9-12 28-57 10-16 9-10 9-22 10-7 9-20 9-6 10-12 9-19 10-10 9-15 9-24 10-4 9-24 19-37 9-6 9-21 10 1 19-24 18-19 38-50 19-20 9-13 9-6 10-22 18-17 19-23 9-18 10-12 9-23 19-22 9-15 19-16 9-16 10-9 18-28 19-21 10-18 9-8 37-46 10-19 9-3 9-11 19-13 19-29 9-11 10-5 9-19 19-28 9-20 9-7 10-20 9-2 19-27 9-5 19-25 19-31 19-19 9-24 9-8 19-34 19-25" stroke="hsl(120.4,100%,50%)"/>
<path d="M10809 13239l49-195 29-108 39-132 39-150 10-26 9-42 10-21 10-32 39-106 19-45 30-84 19-66 10-40 10-27 29-97 19-53 20-66 19-57 20-51 10-31 19-45 29-98 39-118 20-72 39-117 10-23 9-32 10-21 29-80 10-34 10-23 20-68 48-146 10-19 20-62 9-23 117-411 39-111 10-22 29-93 20-47 39-121 58-165 30-89 29-98 19-55 30-95 9-26 20-67 10-23 9-36 49-124 10-30 10-19 19-51 20-35 19-49 10-13 19-49 10-14 10-28 10-21 29-41 19-34 10-9 20-29 9-22 20-31 19-37 20-15 10-15 10-9 19-14 29-42 20-37 39-55 10-8 9-15 10-4 20-20 48-72 20-23 10-16 9-10 10-17 20-18 9-16 10-6 20-35 19-19 10-13 10-19 9-8 20-30 10-6 9-20 10-7 20-25 29-30 10-16 9-9 10-5 10-21 10-5 9-16 10-1 10-19 10-9 9-16 10-20 20-29 19-37 10-8 10-24 9-6 20-29 10 1 29-38 10-9 9-4 30-43" stroke="hsl(128.5,100%,50%)"/>
<path d="M10704 13234l10-50 11-26 20-84 10-29 21-79 10-31 51-186 10-28 20-68 10-27 31-100 10-25 10-39 21-48 10-34 51-130 20-68 72-205 40-136 21-55 20-66 71-206 31-100 10-24 10-34 21-49 41-113 20-72 20-60 61-204 31-75 10-18 10-35 11-18 10-31 10-19 31-96 10-26 61-202 20-59 21-49 51-175 10-26 20-69 21-52 20-61 10-24 31-93 40-105 41-117 10-40 41-106 10-17 41-100 10-19 11-30 30-56 10-24 10-12 11-19 10-7 20-35 10-10 11-23 10-14 30-59 11-8 10-21 10-10 10-14 10-9 31-37 20-21 31-39 10-9 20-25 11-5 10-24 10-6 10-19 21-23 20-35 31-35 10-8 10-21 10-4 41-75 30-25 21-22 10-14 10-1 10-15 11-9 10-13 10-19 10-7 10-16 21-22 10-23 30-41 21-38 10-13 10-9 10-16 21-15 10-10 10-14 31-34 10-21 10-4 21-39 10-5 10-9 20-27 21-21 20-40 10-6 10-25 11-15 10-10 10-17 20-20 31-47 10-7 10-12 11-9 10-13" stroke="hsl(136.5,100%,50%)"/>
<path d="M10601 13243l11-47 32-104 53-204 10-29 22-80 10-29 11-44 10-27 11-37 64-166 10-38 22-58 10-38 11-22 64-181 63-198 43-118 21-65 11-21 10-30 11-23 11-31 10-24 85-249 11-37 21-58 32-106 11-26 21-67 42-118 22-51 21-59 21-72 21-57 11-38 10-23 43-141 11-24 21-65 21-53 43-124 31-100 32-74 22-70 31-82 11-41 32-97 42-113 11-26 11-20 21-62 10-18 43-110 32-72 10-11 11-32 11-16 21-47 21-29 32-50 21-38 11-15 11-11 21-27 53-85 11-9 10-17 11-8 10-13 11-21 11 1 21-31 21-24 43-28 10-11 32-45 43-74 21-23 10-15 22-38 10-10 11-22 32-41 10-18 11 1 11-16 32-30 21-26 10-9 11-16 11-10 31-41 22-18 10-16 11-9 11-19 10-11 11-23 21-29 21-43 11-11 11-4 42-56 11-8 10-18 32-41 11-11 10-19 11-6 11-19 10-8 22-28 21-23 10-8 22-28 10-18 11-10 10-24 22-33 42-57 11-6 21-32 11-3" stroke="hsl(144.5,100%,50%)"/>
<path d="M10498 13245l33-130 33-119 33-112 33-102 11-44 122-340 22-52 22-65 22-55 11-43 11-26 22-65 12-25 11-40 44-124 11-38 11-28 11-39 44-114 11-25 11-41 33-96 12-41 22-62 11-20 22-58 77-211 33-106 11-19 22-67 12-25 77-243 11-29 11-40 22-53 22-46 33-81 11-38 12-22 33-91 22-71 22-54 55-176 44-123 23-52 33-95 11-22 11-30 11-35 22-48 33-65 22-30 22-34 34-60 22-33 11-13 22-39 11-12 11-24 22-35 11-9 11-22 11-5 11-11 22-31 11-9 11-14 11-17 12-12 11-19 33-40 11-17 11-23 11-4 11-10 22-27 44-47 11-18 11-14 11 0 12-21 11-9 11-14 11-3 11-18 11-13 22-44 22-33 11-9 22-32 11-8 22-24 11-4 23-25 22-28 22-24 11-22 55-72 11-6 11-21 11-5 22-30 11-12 11-22 12-10 11-7 22-27 11-18 11-6 22-28 11-18 22-27 33-58 11-16 22-21 11-22 34-29 44-58 11-10 33-43 11-10 11-7 11-21 11-14 11-6 33-42 23-44 22-32" stroke="hsl(152.5,100%,50%)"/>
<path d="M10390 13229l23-86 23-77 12-28 11-48 35-102 23-81 23-66 23-81 34-97 12-25 23-70 11-22 12-39 23-54 11-34 12-21 23-58 34-105 23-62 12-38 23-57 46-130 11-22 12-44 23-67 23-57 11-38 23-55 12-34 11-24 23-64 12-21 11-40 81-210 34-106 12-22 23-67 12-25 11-38 35-96 11-26 12-44 11-26 12-40 11-20 46-124 12-36 69-182 46-131 23-71 57-141 12-37 11-24 46-117 12-18 11-31 12-24 34-55 23-41 12-15 34-69 12-12 11-22 12-13 23-39 11-13 12-20 11-12 12-29 11-9 12-14 11-25 12-15 23-18 11-12 23-32 12-23 23-26 11-22 12-15 11-10 12-16 11-6 23-28 23-23 12-19 23-19 23-36 23-18 11-14 12-10 11-4 12-19 11-9 23-26 12-21 11-9 12-15 46-72 11-11 12-17 46-52 23-18 11-14 23-34 12-10 34-55 12-14 11-11 23-29 24-19 11-15 23-22 12-14 23-39 11-13 12-23 23-27 11-8 23-30 12-6 23-28 11-8 23-28 12-5 11-25 12-17 23-31 23-17 11-20 12-11 11-3 12-10 11-5 12-16 11-7 12-24 11-10 12-26 11-14 12-22 34-39 12-26 11-9 12-15 46-47" stroke="hsl(160.6,100%,50%)"/>
<path d="M10283 13223l36-123 12-49 12-32 36-124 12-26 11-39 24-59 24-78 12-22 36-119 12-28 36-104 72-169 12-38 24-63 11-25 12-39 12-26 12-35 12-25 12-37 24-61 12-36 24-61 36-100 12-22 12-47 12-25 36-107 12-23 35-87 12-35 36-84 84-220 72-199 12-30 11-24 36-96 24-56 36-109 24-63 12-41 12-32 24-53 48-126 12-18 23-72 48-105 36-92 12-22 12-33 48-98 12-16 12-25 24-41 59-94 12-15 12-21 72-87 12-11 12-22 12-14 12-19 12 1 24-34 12-9 12-16 12-9 12-17 12-9 11-13 24-34 12-11 12-19 12-8 12-15 12-11 24-36 24-21 24-32 24-36 12-8 12-13 12-19 12-15 12-9 11-17 12-9 12-3 12-19 12-7 12-14 12-19 24-26 12-9 12-21 12-14 12-6 12-14 36-48 12-22 24-34 12-15 11-12 12-17 12-7 12-13 12-14 12-11 12-17 12-7 12-20 12-6 24-32 12-5 24-29 12-19 12-5 12-17 12-10 12-19 47-53 24-31 12-19 12-7 12-22 12-7 12-25 12-15 12-8 12-20 24-23 12-15 12-5 12-21 24-23 12-23 12-6 23-37 12-8 12-22 24-21 12-8 12-20 24-20 36-39 24-21 24-32" stroke="hsl(168.6,100%,50%)"/>
<path d="M10170 13238l13-34 62-220 12-34 62-211 50-141 37-94 38-81 12-36 37-85 38-106 12-29 12-23 13-36 25-53 37-97 25-52 25-65 12-26 13-38 24-57 62-173 13-27 12-39 25-57 50-128 25-57 12-41 13-23 37-93 12-22 25-58 25-73 12-25 63-166 12-26 37-99 25-58 37-104 13-23 12-40 37-103 13-29 12-39 25-60 13-29 12-16 12-32 50-87 25-50 50-88 12-31 25-40 25-46 12-14 25-38 12-12 13-21 25-29 12-21 13-11 12-17 12-12 25-43 13-6 12-20 37-35 13-17 12-5 25-22 13-6 12-20 25-24 12-20 38-48 12-13 12-11 13-17 12-5 25-32 13-6 24-31 25-25 13-23 37-34 12-21 25-22 13-14 12-23 25-23 12-7 25-32 13-4 12-22 25-17 12-22 13-8 12-23 13-11 12-21 12-13 38-47 37-37 12-16 13-3 25-31 24-23 13-23 12-13 38-28 12-7 12-16 13-10 12-19 25-22 25-40 12-14 13-23 37-49 25-27 37-29 13-13 12-6 13-11 12-13 37-53 13-8 12-17 37-34 13-18 12-12 13-7 12-18 25-24 12-16 13-25 12-13 25-36 25-30 12-8 13-15" stroke="hsl(176.6,100%,50%)"/>
<path d="M10044 13231l39-124 13-35 13-48 13-34 13-44 13-35 13-47 26-60 13-41 64-175 78-195 13-23 26-63 13-24 26-66 13-28 13-36 26-56 13-35 13-23 12-34 13-26 65-160 13-39 26-56 39-105 26-62 26-69 13-25 26-64 25-52 39-98 39-89 13-41 26-69 13-27 13-37 39-90 26-73 64-160 52-123 13-35 26-58 26-67 13-23 13-34 52-117 13-26 13-19 13-33 13-18 25-50 13-19 52-94 13-14 13-18 13-22 26-32 26-40 39-47 13-20 13-13 26-40 12-16 13-10 26-33 13-12 13-6 13-16 13-11 13-14 26-15 26-37 26-21 52-52 13-16 25-23 26-37 13-8 26-31 26-18 39-43 13-20 26-24 26-33 26-24 13-15 13-10 13-19 77-82 13-7 26-30 13-8 13-16 13-6 13-14 13-10 39-49 13-1 13-27 13-11 38-49 13-13 13-18 13-5 13-13 13-18 26-27 26-12 13-20 52-46 26-34 13-22 25-28 13-17 13-9 26-33 13-6 26-21 13-18 26-26 13-6 52-71 13-21 13-10 26-34 25-26 39-34 13-15 13-10 13-7 13-10 13-19 13-8 13-20 13-11 26-31 13-12 13-20 13-8" stroke="hsl(184.7,100%,50%)"/>
<path d="M9909 13212l14-37 13-51 54-160 41-91 27-77 27-64 14-41 27-61 13-42 14-34 81-183 13-21 54-136 14-26 13-39 54-129 27-58 14-24 13-39 55-113 40-96 41-88 13-40 14-25 13-38 41-85 13-23 27-69 27-60 68-164 27-61 27-67 13-28 55-144 54-117 13-24 41-86 13-23 14-32 13-22 27-65 14-22 54-122 13-20 14-37 27-42 27-49 13-12 41-73 13-18 14-10 27-38 41-45 40-56 14-13 13-21 14-14 13-9 14-21 27-36 13-9 54-63 14-10 13-6 27-15 14-16 13-9 14-14 13-8 27-42 14-9 14-23 13-4 14-15 13-10 14-20 13 3 14-8 13-21 14-9 13-16 14-8 13-24 14-9 27-27 13-17 14-7 54-44 27-28 13-7 41-46 13-12 14-24 13-14 14-24 27-31 27-37 14-12 13-16 41-33 13-6 14-20 13-12 27-19 14-21 27-16 94-91 14-3 13-20 27-23 14-19 14-8 40-51 54-45 14-22 27-19 40-40 14-8 13-20 27-18 14-13 13-14 14-23 13-8 14-21 27-33 13-11 27-31 14-7 13-18 14-13 14-6 13-20 27-16 14-6 13-19 14-5 13-16 14-8 27-33 13-13 14-19" stroke="hsl(192.7,100%,50%)"/>
<path d="M9771 13240l14-47 14-35 14-47 57-163 42-109 42-117 14-36 14-28 14-39 15-24 28-69 14-19 14-32 14-20 28-66 42-78 15-40 42-85 70-156 14-39 15-27 14-44 28-59 56-133 14-25 43-89 14-23 42-89 42-105 28-59 15-40 28-50 42-96 14-28 14-35 14-27 14-36 14-30 15-38 14-25 28-66 56-117 28-46 15-37 14-22 14-36 14-27 28-65 56-117 43-74 42-65 28-48 14-7 14-17 14-23 29-31 28-45 28-41 28-27 14-11 14-15 29-20 14-5 28-28 14-7 14-13 28-20 14-14 14-21 15-5 14-21 14-15 14-7 14-16 14-13 28-20 14-14 14-9 29-36 56-59 14-13 14-4 14-17 14-9 14-20 29-32 28-26 14-23 14-5 28-22 14-19 14-2 29-28 14-16 14-12 14-19 14-11 42-44 14-1 14-20 15-6 14-8 28-30 14-9 28-35 28-27 28-24 15-8 14-2 56-55 85-97 14-10 14-18 14-13 28-22 14-18 28-27 15-17 28-21 14-15 14-3 14-13 28-18 14-12 14-23 14-10 15-15 14-9 28-33 14-9 14-15 28-23 14-19 43-38 14-5 14-20 14-6 28-32 14-10 14-6 14-17 14-13 29-17 56-60 14-10 14-17 14-2 14-23 43-40" stroke="hsl(200.7,100%,50%)"/>
<path d="M9631 13221l29-80 44-137 15-32 15-41 29-63 15-43 14-30 44-108 59-121 15-35 15-24 14-39 15-28 15-22 14-29 15-36 15-20 44-96 14-22 15-28 15-38 14-24 15-36 29-53 89-197 44-90 14-37 59-113 73-130 15-21 29-57 15-31 44-102 15-26 15-32 58-142 15-28 15-39 14-19 15-39 15-26 44-92 14-23 59-125 15-27 14-22 30-60 29-42 30-56 14-22 15-35 15-19 14-24 30-37 14-24 15-9 15-21 29-24 29-37 30-25 14-16 30-25 14-18 45-44 14-13 15-18 15-12 14-18 15-3 15-8 29-37 29-20 15-21 29-21 44-41 15-17 15-7 14-20 15-6 44-35 15-8 15-12 14-17 30-23 14-9 15-18 29-24 15-7 59-55 14-12 15-9 15-26 14-5 15-12 15-3 14-21 15-2 59-63 73-71 15-6 29-17 15-14 15 0 29-29 15-5 58-61 30-34 15-11 14-26 15-7 73-63 15-8 15-22 14-6 30-34 29-19 15-12 14-15 15-6 44-38 30-10 14-19 15-4 29-31 15-9 15-17 14-10 15-17 15-14 14-12 15-8 15-17 29-18 15-13 29-35 15-22 14-8 30-32 14-4 30-24 15-8 14-2 15-5 15-22 14-8 15-22 73-74 15-7 15-13" stroke="hsl(208.7,100%,50%)"/>
<path d="M9465 13221l47-124 15-35 15-51 31-72 15-26 47-119 15-34 15-46 31-58 46-104 16-28 15-36 108-192 15-33 15-23 16-34 46-87 15-34 46-85 16-40 15-28 31-65 138-268 77-169 15-25 16-39 15-28 31-66 15-26 16-32 46-79 30-66 31-57 31-63 31-53 15-30 15-21 16-36 31-55 15-19 15-26 31-39 15-28 16-17 15-28 16-18 15-22 31-36 15-9 15-22 31-25 16-8 15-22 15-9 46-54 16-11 15-22 16-17 30-29 16-7 15-13 15-18 16-11 15-6 16-17 30-15 16-13 15 5 31-33 15-9 16-16 15-21 15-14 16-23 46-42 15-10 16-4 15-20 15-4 16-17 15-6 15-11 16-15 15 0 31-32 15-5 16-14 15-23 31-25 15-15 15-11 16-21 15 0 16-14 15-5 46-28 15-21 31-30 16-10 15-19 15-10 16-16 46-32 31-24 15-7 15-10 16-21 15-10 31-27 15-10 31-32 15-8 31-26 15-7 16-17 15-9 16-15 15 0 15-18 46-31 16-16 61-54 16-15 30-12 16-19 15-13 16-9 15-13 15-8 16-15 30-15 16-21 15-8 16-18 15-11 15-22 16-17 46-39 15-7 15-11 16-15 15-4 16-16 30-19 31-24 15-9 47-41 15-10 31-32 15-5 31-26 15-10 31-32 15-12 16-16 30-41 16-13 15-17 16-11 15-16 31-26" stroke="hsl(216.8,100%,50%)"/>
<path d="M9295 13229l97-260 32-73 16-31 48-119 16-28 32-66 17-39 16-32 16-21 32-61 16-23 64-120 16-36 33-58 32-72 48-96 48-92 16-25 33-70 16-26 16-37 16-26 16-37 48-87 32-66 32-60 49-103 80-160 16-25 32-60 17-21 16-29 16-21 16-29 32-46 80-136 16-15 17-26 32-46 16-20 48-50 16-20 64-71 33-33 16-12 16-17 16-6 16-15 16-1 16-6 32-23 16-7 49-46 16-21 80-71 48-23 49-34 48-49 16-19 16-6 16-19 16-9 32-31 33-16 16-12 16-4 16-10 16-16 48-34 16-20 49-39 16-9 16-17 16-11 16-17 16-5 16-23 16-18 16-12 16-22 33-18 16-13 16-8 16-15 16-6 16-14 16-4 16-9 32-24 16 1 16-16 17-9 16-13 16-3 16-21 48-38 16-7 16-21 16-15 16-10 17-4 16-16 16-9 16-19 16-6 16-17 32-19 16-15 16-13 16-18 16-8 17-15 16-11 16-22 32-19 32-23 16-9 16-13 16-17 16-11 17-6 16-22 16-10 16-19 16-6 16-18 16-9 16-6 16-13 16-6 32-27 17-9 16-13 16-7 16-17 16-8 32-33 16-6 16-16 16-11 16-16 16-3 17-11 16-13 32-33 32-26 16-10 16-16 32-23 16-9 49-47 16-11 32-15 32-24 32-20 16-6 49-38 16-9" stroke="hsl(224.8,100%,50%)"/>
<path d="M9089 13220l17-45 17-34 34-84 17-32 17-43 17-29 34-76 17-42 17-33 17-42 34-73 17-30 17-37 33-50 34-57 17-22 34-54 34-69 17-23 34-66 17-20 17-34 51-92 34-56 17-38 16-22 34-77 17-25 34-72 51-93 17-25 51-100 17-28 17-40 17-32 67-121 17-28 17-23 17-30 153-211 17-17 34-47 17-11 17-14 16-22 17-12 17-19 17-25 17-11 34-35 17-20 17-13 17-9 17-19 17-6 34-22 17-4 17-14 17-9 17-15 17-5 16-15 34-20 17-13 17-10 17-19 17-7 51-39 17-10 17-7 34-27 17-8 17-15 17-7 17-19 17-4 16-17 34-20 17-8 17-18 17-10 17-7 17-19 17-8 17-16 17-12 17-18 17-1 17-19 51-35 50-31 17-17 34-28 34-22 34-33 17-10 34-28 34-17 34-33 17 6 34-33 16-9 34-35 17-8 17-21 17-13 17-5 68-43 17-7 17-17 17-7 34-31 51-40 16-21 17-9 17-18 51-30 17-2 17-20 17-6 34-26 17-9 17-3 17-17 34-28 17-11 17-14 17-8 33-31 17-9 17-5 34-38 17-9 34-27 34-19 17-7 17-16 17-1 17-14 34-23 17-17 17-12 16-21 17-12 17-8 17-19 17-13 17-6 34-20 17-15 17-11 17-4 17-18 17-6 17-20 34-19 17-16 50-36 34-15 17-16 17-3 17-20 17-9 17-18 17-5 17-21 17-7 34-27 17-10 17-13" stroke="hsl(232.8,100%,50%)"/>
<path d="M8883 13213l18-36 17-30 36-66 36-74 35-65 18-42 18-22 18-43 71-132 89-146 36-52 53-100 18-40 18-30 35-69 36-50 18-27 18-34 17-26 18-36 18-25 18-35 89-152 35-56 18-36 18-25 54-91 17-26 36-44 53-86 18-21 36-59 18-15 35-54 36-39 36-45 17-18 36-31 36-34 17-9 18-19 18-7 18-10 35-27 18-5 18-24 18-10 36-32 17-8 18-12 54-46 17-8 72-54 17-10 18-7 18 0 18-18 18-3 17-10 36-32 36-22 18-19 17-13 18-20 18-14 18-19 18-11 17-7 18-14 18 2 71-37 18-20 36-25 18-22 17-4 18-18 36-26 18-16 17-11 18-7 71-51 18-8 18-13 18-5 18-10 18-15 17-4 18-17 18-8 18-18 18-6 17-18 18-14 18-9 18-17 35-27 18-15 54-29 17-6 18-17 18-13 36-24 18-9 17-18 36-15 18-17 18-9 17-6 18-18 18-9 18-18 53-42 36-22 18-6 18-10 17-18 18-7 54-39 17-18 18-8 18-12 18-23 18-5 17-22 18-13 18-5 18-25 18-7 35-24 36-19 18-14 18-8 35-26 36-23 18-14 17-8 36-21 18-7 18-16 17-1 18-10 18-16 18-10 18-7 18-17 35-22 18-18 36-25 17-15 36-26 36-21 17-17 18-12 54-31 18-7 35-22 18-6 71-46 18-8 18-21 18-12 17-6 36-38 18-5 18-22" stroke="hsl(240.9,100%,50%)"/>
<path d="M8684 13206l19-27 19-45 18-26 19-39 18-32 19-30 19-24 18-30 38-72 18-24 19-36 19-24 18-32 19-39 56-101 18-26 19-33 19-24 18-33 19-24 19-38 18-21 19-28 19-35 55-83 38-63 18-24 56-96 19-28 19-38 37-63 19-21 18-26 93-130 19-30 56-70 19-29 18-23 19-18 19-27 18-21 37-39 19-12 19-28 37-26 19-21 18-11 19-21 37-27 19-19 19-10 37-31 18-21 19-8 56-34 37-18 19-13 37-18 38-25 18-10 19-17 18-21 19-4 19-22 18-7 56-36 19-15 37-8 19-10 19-16 18-9 37-27 19-8 19-21 18-11 38-27 18-11 19-20 37-11 19-9 19-15 37-19 18-7 19-21 37-28 19-21 56-29 19-4 18-11 19-17 18-1 38-32 18-22 19-5 37-33 19-10 19-6 18-11 19-16 56-37 18-8 19-17 19-13 18-9 38-24 18-18 19-7 56-34 19-16 18-6 19-10 37-15 19-18 37-14 19-20 18-5 19-18 56-34 19-19 18-13 37-21 38-27 18-7 19-10 19-13 56-32 37-25 19-1 18-24 19-6 18-19 19-12 19-15 18-8 56-38 38-11 18-21 19-5 56-46 18-19 56-41 19-10 19-13 18-3 19-9 19-15 18-7 19-13 37-21 19-8 18-16 19-12 37-17 19-17 19-13 18-5 38-30 18-11 19-15 19-4 18-14 19-10 18-19 38-15 56-39 18-18 19-7 19-22 18-5 19-16 37-24 19-18 18-12 19-6 19-15" stroke="hsl(248.9,100%,50%)"/>
<path d="M8487 13219l19-31 20-37 38-62 39-55 20-40 97-165 20-38 19-21 20-40 39-59 58-95 19-18 20-30 19-23 39-55 20-39 39-49 19-34 20-19 19-25 20-35 19-26 20-21 38-61 98-139 39-51 19-32 20-17 19-30 20-23 19-19 20-28 19-16 39-40 39-24 39-31 19-5 78-64 20-13 19-22 20-13 19-19 20-11 19-19 19-14 78-43 20-17 19 2 20-21 19-8 20-16 78-36 19-20 39-20 19-15 20-10 19-5 20-15 19-10 20-14 19-7 20-17 39-20 19-19 20-9 19-13 20-8 19-11 58-49 20-24 19-4 20-16 39-26 19-10 20-8 19-17 20-7 19-16 20-4 39-27 97-48 19-14 20-3 19-23 39-11 20-9 19-16 20-9 19-14 20-7 19-15 20-20 19-8 58-43 39-25 20-9 19-11 20-5 19-14 20-19 19-8 39-27 20-7 19-23 19-7 59-31 39-26 19-6 39-32 39-29 39-18 20-19 19-3 20-12 19-9 19-12 20-6 19-10 20-15 19-10 20-17 19-3 20-15 39-16 19-12 20-18 19-5 20-12 38-27 20-18 19-9 59-38 19-15 59-32 19-5 20-14 19-7 156-110 58-34 20-23 19-5 20-10 19-2 20-11 19-6 20-13 19-9 20-15 19-5 19-21 20-12 19-19 20-11 19-7 20-18 39-20 19-14 20-7 19-21 20-12 19-15 20-6 19-16 78-38 78-47 19-7 20-14" stroke="hsl(256.9,100%,50%)"/>
<path d="M8341 13211l40-49 20-38 20-26 20-38 20-20 20-31 20-37 41-54 60-96 40-59 40-65 20-24 20-35 20-24 20-31 41-45 20-33 40-46 40-59 80-103 41-56 20-22 40-56 80-102 20-24 40-43 20-18 20-24 41-32 20-25 40-29 20-23 20-18 20-16 20-9 20-25 40-34 20-12 21-9 20-24 20-9 20-13 20-16 40-13 20-13 40-21 20-16 20-3 41-36 40-26 40-23 20-6 40-21 60-26 20-14 21-7 20-12 20-19 20-16 20-7 20-18 20-9 20-15 40-35 20-14 20-3 20-11 21-4 20-9 20 0 20-17 20-14 40-20 20-15 20-10 20-19 20-1 20-13 21-3 20-13 20-8 20-19 20-14 20-7 20-24 20-9 20-16 20-7 20-17 61-26 40-24 20-4 20-19 20-13 20-8 20-14 20-18 40-28 40-25 21-7 20-12 80-30 20-22 20-4 40-18 20-14 41-20 20-21 20-9 40-24 20-20 40-23 20-17 40-20 20-15 20-1 21-10 20-17 20-8 20-19 20-4 20-16 40-22 20-6 20-10 20-14 20-21 20-4 21-17 20-7 20-14 40-36 20-14 60-36 20-5 20-10 61-23 20-14 20-10 60-34 20-14 20-9 20-16 20-10 40-31 21-7 20-10 20-4 20-19 20-8 20-11 20-15 40-22 20-14 20-18 20-10 20-7 41-30 20-12 60-54 80-22 40-18 21-1 60-38 20-9 20-16 20-8 20-4 20-18 20-14 60-35 61-39" stroke="hsl(264.9,100%,50%)"/>
<path d="M8204 13218l41-56 21-19 21-34 41-51 21-21 20-32 42-55 41-71 41-61 21-25 62-97 20-21 21-28 21-33 20-27 42-44 20-32 124-154 21-15 21-29 41-43 41-52 21-19 20-28 21-18 21-22 20-27 21-10 62-56 21-22 20-11 21-24 41-34 42-46 20-5 21-21 21-15 20-11 21-5 41-31 21-9 20-13 21-18 21-11 20-4 21-20 41-27 21-9 21-16 20-12 21-14 41-21 21-18 41-14 41-22 21-6 21-16 62-29 41-32 62-29 21-12 20-17 21-9 21-15 20-7 42-28 41-31 41-21 21-2 20-14 21-9 21-18 20-2 21-10 21-6 20-12 42-20 20-17 21-10 21-20 41-36 21-5 41-32 21-5 41-22 41-15 21-17 20-2 62-33 21-15 21-10 20-17 42-14 20-15 21-5 21-10 20-16 42-11 20-19 21-6 21-14 20-10 21-17 20 2 21-17 21-5 20-25 42-22 20-20 21-13 21-10 20-22 21-5 21-12 20-23 21-6 62-37 21-15 20-7 21-13 21-4 20-12 21-4 20-9 21-13 21-11 20-15 21-10 21-19 20-9 21-15 41-17 42-22 41-24 21-19 20-10 42-31 20-2 21-9 20-3 21-17 21 3 20-15 21-4 62-43 41-21 21-13 21-4 20-11 21-15 41-8 21-14 21-21 20-7 21-10 21-20 20-6 62-44 21-10 20-8 21-15 21-11 20-4 83-42 21-12 41-32 62-39 21-7 20-10 21-6 20-11 21-6 21-13 20-6 21-19 41-28 21-12 21-20" stroke="hsl(273.0,100%,50%)"/>
<path d="M8082 13208l42-62 21-18 43-62 21-17 42-57 64-74 21-29 42-51 21-35 22-24 42-52 21-30 21-20 21-32 22-27 63-61 21-13 21-31 85-86 42-48 21-18 43-43 42-37 21-22 21-10 22-30 21-13 21-32 42-37 43-54 21-18 21-24 21-14 21-21 21-11 43-38 21-10 21-16 64-33 21-15 21-5 21-10 21-3 21-18 22-8 21-28 21-12 21-19 21-12 21-21 21-10 22-16 42-17 42-22 21-5 22-14 21-20 21 3 42-30 43-20 21-6 21-9 21-3 21-19 64-45 21-7 21-26 21-5 21-19 22 3 21-17 21-10 21-4 42-29 22-6 21-14 42-22 21-6 21-23 21-16 22-12 42-38 21-9 21 2 21-11 22-7 42-11 21-4 85-48 42-31 21-13 21-6 43-27 21-9 21-17 21-9 21-13 64-23 42-26 21-7 21-25 43-29 21-6 21-20 21-11 21-4 22-13 42-12 21-19 21-10 43-28 42-28 21-19 42-15 22-15 42-23 21-9 21-18 43-18 21-5 127-63 21-18 21-2 21-14 21-9 21-16 22-5 63-46 42-23 22-7 42-23 63-25 22-16 21-10 21-17 42-21 21-7 22-18 21-2 21-19 21-7 21-20 43-19 42-23 21-17 21-5 21-14 22-8 42-27 21-16 21-13 21-6 21-17 22-13 21-5 42-22 21 2 21-16 22-9 21-19 21-8 42-22 21-23 43-21 21-5 21-18 21-12 21-7 43-26 21-7 21-17 21-11 64-42" stroke="hsl(281.0,100%,50%)"/>
<path d="M7841 13275l22-23 22-10 23-27 22-21 22-29 22-10 22-29 67-55 22-27 22-23 44-38 23-16 22-27 44-43 22-19 22-25 23-20 44-49 22-28 22-21 45-55 44-49 22-20 22-28 45-45 155-172 44-44 22-25 22-21 23-27 44-37 22-15 22-21 45-34 44-32 22-13 22-20 45-30 22-21 22-17 44-31 45-35 22-13 22-20 22-13 22-21 45-32 22-6 22-2 22-17 22-4 23-19 22-6 22-4 22-17 22-13 22-7 67-46 22-13 44-23 23-18 22-3 22-10 22-18 44-16 67-34 22 3 45-21 22-15 22-5 22-21 22-17 22-5 23-21 22-14 22-5 22-21 44-18 23-19 22-5 22-11 22-15 22-9 67-42 22-6 22-20 22-12 22-7 23-13 22-10 22-12 44-22 22-19 23-8 22-19 22-9 22-19 44-24 45-28 22-8 22-19 22-10 23-4 22-17 22-14 44-22 22-16 45-20 22-5 66-47 23-11 22-17 22-9 22-18 22-2 67-29 22-4 22-7 22-18 45-11 22-18 22-15 22-8 22-23 22-5 23-12 22-1 22-14 22-7 22-18 45-22 22-14 22-18 22-6 67-37 22-10 22-5 89-32 22-21 22-12 44-19 23-13 22-11 44-7 22-13 22-5 23 0 88-43 45-31 88-40 22-6 23-11 22-4 88-25 23-17 22 0 22-19 66-41 23-17 22-2 22-12 22-2 44-18 23-2 22-8 22-5 22-10 22-1 23-10 22-8 22-11 44-9 45-14 22-10" stroke="hsl(285.0,100%,50%)"/>
<path d="M7753 13113l22-8 45-34 45-19 23-19 45-24 23-18 22-11 23-16 22-21 23-16 45-23 22-23 90-62 23-16 23-20 22-11 23-24 22-8 23-18 45-44 22-16 23-26 22-20 23-25 68-66 22-31 45-47 23-27 45-50 67-63 23-18 23-25 22-19 23-16 22-21 23-13 22-6 23-24 45-20 22-7 23-19 22-6 23-22 23-17 22-11 23-15 22-19 45-21 45-34 45-23 23-18 22-8 23-25 23-5 45-25 22-18 23-11 22-19 23-14 22-1 45-29 68-28 23-16 22-1 23-16 22-5 23-22 22-16 23-13 22-9 23-18 22-8 23-5 45-26 23-6 22-11 23-15 45-17 22-6 45-28 23-11 22-18 23-8 23-17 22-12 68-44 22-2 23-23 22-4 23-17 22-1 23-19 22-11 23-1 23-21 22-2 23-11 22-1 23-22 22-11 68-24 67-43 23-12 23-18 22-12 23-17 22-10 23-20 45-21 22-16 23-8 22-20 23-8 22-15 46-19 22 1 23-12 22-4 23 2 22-6 23-17 45-12 22-17 46-23 22-17 45-12 23-1 22-17 23-3 22-11 23-14 22-5 23-15 45-22 23-17 22-9 23-2 22-20 45-28 23-18 22-12 45-14 23-10 22-3 23-12 23-17 22-2 23-13 22-8 23-13 67-31 45-24 23-2 45-17 68-39 22-7 23-15 45-16 22-14 45-18 23-14 45-18 23-4 22-8 23-15 45-11 22-8 23-18 22-6 23-14 22-6 68-32 45-13 23-3 22-10 23-3 90-37 22-12 23-1 23-9 22-12 23-5 22-13 23-8" stroke="hsl(289.0,100%,50%)"/>
<path d="M7753 13048l22-18 23-13 22-19 45-25 23-25 45-27 23-8 22-20 23-12 22-17 23-6 22-18 45-31 23-19 22-24 45-27 23-21 23-26 45-38 22-16 23-25 22-9 23-24 22-19 23-8 22-26 91-58 22-24 45-35 23-25 90-71 22-14 23-8 23-21 22-8 23-19 22-12 23-18 45-23 22-14 23-7 22-16 45-16 23-18 23-7 22-13 23-6 22-14 23-24 67-46 68-30 22-7 23-4 23-18 22-10 23-13 22-17 23-6 22-19 23-14 45-16 22-15 23-9 22-20 46-28 22-8 23-19 22-5 23-15 22-6 45-25 23-8 22-15 23-5 45-26 23-10 22-15 23-5 22-13 23-7 22-11 23-3 22-18 45-18 46-31 22-18 45-23 23-5 45-31 22-2 23-14 22-7 23-11 22-7 23-19 23-12 22-16 23-6 45-26 22-3 45-26 23-5 22-14 23-6 22-10 23-17 23-13 45-10 22-17 45-7 23-17 22-13 23-6 22-19 45-27 23-7 23-3 22-16 23-10 22-2 23-7 45-20 45-17 22-16 46-18 22-14 23-4 22-11 23-5 22-13 23-7 22-14 45-20 23-15 22-4 23-9 23-11 22-4 45-21 23-1 22-8 23 0 45-22 45-17 22-23 23-11 45-11 23-12 22-4 23-8 45-2 22-10 23-5 45-20 22-18 23-12 45-14 23-20 45-17 22-11 68-23 22-10 23-15 23-10 22 1 23-23 22-6 23-9 22-6 23-15 22-4 23-11 22-7 23-15 45-8 23-9 22-2 45-22 23-2 22-4 23-9 45-5 22-9 23 4 22-18 23-6 23-12 22-7 45-21 23-6" stroke="hsl(293.0,100%,50%)"/>
<path d="M7753 12957l22-10 23-26 45-25 22-19 45-28 23-6 23-14 22-6 23-21 22-7 23-17 45-27 22-9 23-20 45-28 22-16 68-38 45-37 23-15 22-26 23-14 22-20 23-15 22-12 23-20 23-14 22-11 23-19 22-11 23-28 22-9 23-19 45-23 22-8 23-16 22-10 23-13 45-18 23-17 22-9 45-33 45-27 23-11 22-16 45-25 23-18 45-24 23-6 22-9 23-4 22-9 68-30 22-15 23-8 22-17 46-17 22-6 45-22 23-6 22-10 23-18 22-9 23-14 22-9 23-22 22-13 23 0 23-15 45-15 22-15 45-24 23-4 22-17 23-14 22-6 23-16 23-11 22-5 45-19 23-15 22-9 23-2 45-27 22-9 91-24 22-10 23-5 67-39 23-8 45-30 45-19 22-6 23-12 23-5 22-8 45-19 45-12 23-7 22-15 23-7 22-3 23-7 45-22 23-7 22-3 23-17 22-9 23-11 22-14 45-21 23-9 22-7 45-9 23-9 23-10 22-18 23-9 22-4 23-21 22-10 23-17 67-23 23-4 23-14 22-4 23-11 22-8 23-12 22-7 23-20 22-3 23-9 22-6 68-30 23-14 22-10 23-14 22-8 23-4 22-1 90-17 23-22 22-2 46-29 22-7 23-14 22-10 23-3 45-20 22-7 23-3 67-38 23-1 23-17 22-6 45-26 90-28 23-14 22-2 23-12 23-7 22-3 23-17 45-13 22-14 23-6 22 3 23-18 22-1 23-10 22-16 23-7 23-4 22-6 23-14 22-5 23-9 22-2 23 1 22-14 23 1 22-11 23-8 22-13 23-6 23-23 22-6 23-10 22-13 23-11" stroke="hsl(297.0,100%,50%)"/>
<path d="M7753 12898l22-11 45-27 23-9 22-21 23-12 22-8 91-51 67-51 23-13 22-1 23-15 45-22 22-8 23-12 45-28 45-16 23-14 45-11 22-15 23-6 22-17 23-4 23-17 22-9 23-6 22-10 45-16 23-18 22-9 23-1 22-20 23-6 22-13 23-6 23-17 22-9 23-12 22-3 23-9 22-18 45-10 23-15 22-3 45-20 23-15 23-4 22-7 68-27 45-22 45-18 67-18 46-22 22-3 45-19 45-23 68-21 22-10 45-10 23-13 45-17 23-14 45-15 22-14 23 0 22-11 23-6 22-11 23 1 23-6 22-13 23 2 22-12 23-9 45-7 22-10 23-5 45-27 22-3 23-15 23-9 22-5 45-17 23-2 45-16 22 1 45-21 23 3 45-27 23-3 45-15 22-16 23-8 22-7 45-11 23-15 22-4 23-9 22 5 23-12 23 0 22-4 23-5 22-10 23 0 22-17 23-6 67-23 23-9 22-14 23-3 45-24 23-2 22-10 23-2 22-10 23-6 45-17 22-13 23 0 23-16 22-9 23-2 67-33 23-10 22-4 45-23 45-14 23 0 45-6 23 0 22-12 23 1 22-14 23-2 45-27 45-12 22-17 23 0 23-13 22 2 23-22 22 2 23-14 22-2 45-24 23-4 22-10 23-6 22-10 23-1 23-12 45-9 22-8 45-13 23-12 22-4 23-18 22-4 23-9 23-13 22-3 23-13 22-7 23-11 22-2 23-6 67-27 23-2 22-15 23-5 45-28 23 1 45-9 22-10 23-3 45 1 22-13 23-7 22-4 46-19 22-13 23-7 22-11 23-6" stroke="hsl(304.0,100%,50%)"/>
<path d="M8393 13371l20-8 20-10 20 0 19-13 40-6 20-10 20 14 20-1 20-4 19 2 20-5 20 3 20-12 40-5 59-21 20-4 40-12 20 6 20-12 19 9 20-13 20-2 20-7 40-3 20-9 19 2 20-5 20-3 20 5 20-7 20 5 20-2 20 2 19-9 20 6 20-7 20-5 20-1 40-15 19-2 40 4 20-6 20 4 40-23 19 4 20-11 20-6 20-11 40-13 20-3 19 2 40-1 20 4 20-2 20 3 20-9 19-1 20-6 20 4 20-3 40-12 20-1 20-4 19 0 20-8 40-5 20-4 20-12 20-4 19-10 20-2 40-14 20-1 20-6 20-8 19 3 20-9 20-3 20 1 40-16 20-5 19-2 20 2 100-13 19-10 20-2 20-11 20-2 20-8 20-1 20-9 20-1 19-8 20-1 20-5 20-2 20 3 20-5 20-9 19 5 20-9 20-2 20-9 20-2 20-15 20-1 19-8 20-4 40-15 40-9 20-12 19-2 20-14 20-1 20-11 20-4 40-1 19-9 20-2 20-8 20-2 40-11 20-2 39-13 40-4 40-18 20-4 20 2 19-11 60-12 20-7 20-4 20-1 79-27 20 1 40-8 19-13 40 2 40-15 20 0 20-13 19 4 20-16 20-3 20-7 20-13 59-27 20 1 20-5 20-12 80-11 19-6 40-2 20-5 20-15 20-3 20-7 19-13 20-3 20-13 20 3 20-10 20-5 39-12 60-11 20-8 20 0 20-4 39-17 20-5 20-19 40-5 20-13 19-2 20-12 20-2 20-13 20-6 20-13 20-1 20-11 19-3 20-6 20-2 20-5 20 0 40-14 19 3 20-2 20-13 20-2 20-10 20-2" stroke="hsl(316.0,100%,50%)"/>
</g></g>
<text x="370.50" y="652.90" font-size="30" text-anchor="middle"><tspan font-style="italic">B</tspan> (<tspan font-style="italic">T</tspan>)</text>
<text x="1052.90" y="652.90" font-size="30" text-anchor="middle"><tspan font-style="italic">B</tspan> (<tspan font-style="italic">T</tspan>)</text>
<text x="370.50" y="1354.90" font-size="30" text-anchor="middle"><tspan font-style="italic">B</tspan> (<tspan font-style="italic">T</tspan>)</text>
<text x="1040.50" y="1354.90" font-size="30" text-anchor="middle"><tspan font-style="italic">B</tspan> (<tspan font-style="italic">T</tspan>)</text>
<text transform="translate(21.50,314.40) rotate(-90)" font-size="30" text-anchor="middle"><tspan font-style="italic">R</tspan><tspan font-size="20" dy="8.8">sheet</tspan><tspan dy="-8.8"> (</tspan><tspan font-family="Liberation Serif, serif">Ω</tspan>)</text>
<text transform="translate(695.30,320.40) rotate(-90)" font-size="30" text-anchor="middle"><tspan font-style="italic">R</tspan><tspan font-size="20" dy="8.8">sheet</tspan><tspan dy="-8.8"> (</tspan><tspan font-family="Liberation Serif, serif">Ω</tspan>)</text>
<text transform="translate(21.50,1014.40) rotate(-90)" font-size="30" text-anchor="middle"><tspan font-style="italic">R</tspan><tspan font-size="20" dy="8.8">sheet</tspan><tspan dy="-8.8"> (</tspan><tspan font-family="Liberation Serif, serif">Ω</tspan>)</text>
<text transform="translate(695.30,1014.90) rotate(-90)" font-size="30" text-anchor="middle"><tspan font-style="italic">R</tspan><tspan font-size="20" dy="8.8">sheet</tspan><tspan dy="-8.8"> (</tspan><tspan font-family="Liberation Serif, serif">Ω</tspan>)</text>
<text x="1" y="32" font-size="42" font-weight="bold">a</text>
<text x="669" y="32" font-size="42" font-weight="bold">b</text>
<text x="1" y="728.5" font-size="42" font-weight="bold">c</text>
<text x="669" y="728.6" font-size="42" font-weight="bold">d</text>
<text x="370.00" y="40.00" font-size="30" text-anchor="middle" >ZrNCl</text>
<text x="370" y="734.9" font-size="30" text-anchor="middle">MoS<tspan font-size="20" dy="8.7">2</tspan></text>
<text x="322.60" y="125.00" font-size="30" text-anchor="middle" >20 K</text>
<text x="479.50" y="302.00" font-size="30" text-anchor="middle" >2 K</text>
<text x="413.20" y="811.00" font-size="30" text-anchor="middle" >15 K</text>
<text x="515.40" y="1059.70" font-size="30" text-anchor="middle" >2 K</text></svg>
</body></html>
